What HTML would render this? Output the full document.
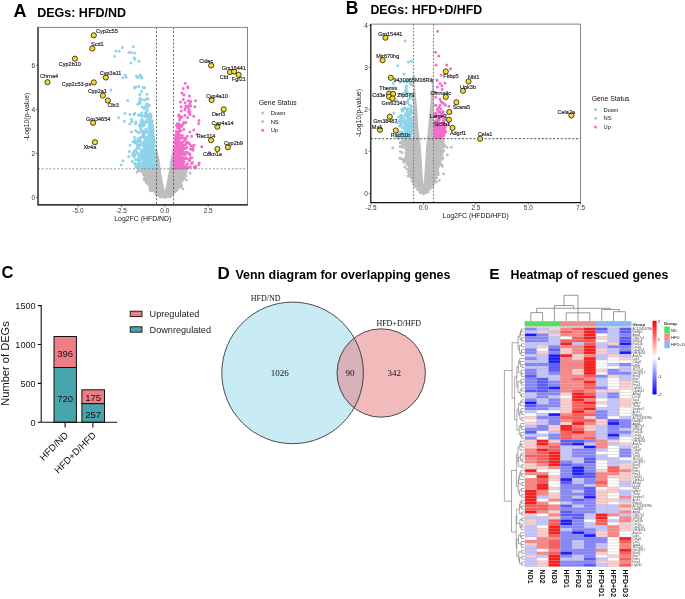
<!DOCTYPE html><html><head><meta charset="utf-8"><style>html,body{margin:0;padding:0;background:#fff}svg{display:block;will-change:transform}</style></head><body><svg width="685" height="599" viewBox="0 0 685 599"><rect width="685" height="599" fill="#fff"/><g>
<clipPath id="clipA"><rect x="38" y="27.3" width="209.6" height="177.6"/></clipPath>
<g clip-path="url(#clipA)">
<path d="M142.2 168.8L147.4 179.9L149.2 187.6L155.4 192.6L160.6 197.5L164.8 199L168.8 197.5L174.9 192.6L179.7 187.6L182.5 179.9L183.9 168.8L173.5 168.8L173.5 146.3L172.1 143.5L157.5 143.5L156.1 146.3L156.1 168.8Z" fill="#bebebe"/>
<path d="M156.8 140.2L156.8 147.7L159.6 160L160.5 168.8L162.5 180.3L164.3 189.1L164.8 190.7L165.3 189.1L167.2 180.3L169.3 168.8L170.4 160L172.8 147.7L172.8 140.2Z" fill="#fff"/>
<path d="M174.1 191.8h0M148.1 182.2h0M138.8 170.6h0M142.6 170.1h0M148.2 181.1h0M158.4 195h0M176.1 190.7h0M181.1 187.1h0M145 170.3h0M143.6 171.5h0M157.5 195.2h0M183.1 174h0M149 185.1h0M174.9 191.9h0M182.9 189h0M144.1 171.3h0M144.7 171.2h0M175.3 191.2h0M147.8 178.4h0M169.1 196.6h0M183.7 171.1h0M149.9 188h0M177 189.9h0M160.9 197h0M151.8 189.9h0M143.8 175h0M173.4 192.9h0M180.5 183.7h0M144.5 170.4h0M146.7 181.3h0M146.1 181.9h0M184.7 172.4h0M183.3 176.9h0M185.8 172.5h0M171.2 195.2h0M146.5 182.7h0M179.4 186.8h0M147.8 178.7h0M146.9 182.8h0M145.4 172.1h0M180.8 184h0M155.8 193.9h0M147 179.1h0M153 190.1h0M147.1 181.2h0M177.2 189.9h0M142.2 170.9h0M186.3 171.6h0M159.6 195.4h0M181 183.8h0M149.4 185.3h0M182.4 177.2h0M144.5 178.4h0M146.3 174.1h0M144 171.9h0M155.9 192.6h0M159.2 196h0M184.1 170.6h0M181.4 179.6h0M183.1 180h0M186.1 169.8h0M180.9 182h0M158.9 195.7h0M171 194.9h0M181.5 178.4h0M185.5 172.4h0M181.8 178h0M145.5 174.7h0M146.6 176.6h0M181.3 184.5h0M185.3 170h0M174 192.7h0M142.6 172.1h0M144.7 174.4h0M148.5 183.1h0M145 174.4h0M180.8 183.6h0M144.2 179.3h0M184.6 177.9h0M185.3 174.1h0M155.3 191.8h0M186 175.8h0M186.5 180.1h0M173.5 193h0M149.8 188.9h0M146.4 173h0M146.5 173.7h0M145.7 171.9h0M137.1 172h0M190.1 173.2h0M175.5 191.2h0M182.9 174.9h0M183.2 174.4h0M145 177.5h0M152.3 189.6h0M147 182.7h0M149.7 186.6h0M154.8 191.7h0M184.9 173.8h0M169.5 196.8h0M172.7 193.7h0M146.5 179.8h0M185.8 172h0M170.8 195.9h0M181.6 185.4h0M151.2 189.9h0M144.5 180.1h0M147.7 184.1h0M148.9 185.1h0M183.5 174.4h0M147 179.2h0M143.1 173.2h0M140.2 171.1h0M157.3 193.7h0M149.7 186h0M170.8 194.9h0M152.4 190.6h0M181.1 180.5h0M145.7 174.8h0M181.6 181.2h0M147.3 175.9h0M172.6 193.5h0M143.6 174.3h0M181.3 181.2h0M185.1 169.8h0M179.8 187.2h0M144.9 172.6h0M150.3 190.9h0M170.5 196.9h0M157.3 195.1h0" stroke="#bebebe" stroke-width="2.9" stroke-linecap="round" fill="none"/>
<path d="MZ" fill="#8fd3e8"/>
<path d="MZ" fill="#f46ccb"/>
<path d="M146.4 154.5h0M150.6 152h0M144.9 163.7h0M144.3 166.1h0M154.7 166.2h0M140.3 75.1h0M153.8 143.8h0M152.8 151h0M145.9 163.5h0M153.5 154.9h0M142 151.4h0M155.3 154.2h0M150.3 125.9h0M145.1 160.5h0M148.7 134.7h0M139.8 95h0M147.3 168.4h0M137.5 77.4h0M154.4 166.6h0M148.8 166.3h0M141.5 91.4h0M147.6 165.9h0M144.2 131.5h0M152.1 163.5h0M148.8 165.1h0M149.4 162.9h0M139 86.5h0M138.3 162.9h0M129.8 123.8h0M140 162.8h0M152.8 134.1h0M152.3 166.2h0M148.8 161.9h0M139.9 94.4h0M152.9 148.6h0M146.1 113h0M154.1 161.7h0M134.8 163.3h0M148.1 118.9h0M153.7 167.5h0M154.8 162.1h0M138.1 147.4h0M149.8 163.9h0M152.3 149.4h0M149.6 146.3h0M152.7 168h0M148.5 154.7h0M147.3 148.7h0M142.6 158h0M152.9 141.2h0M121.3 164.9h0M152.2 140.4h0M141.6 167.9h0M153.9 159.5h0M154.1 166.6h0M134.5 137.5h0M145.2 131.9h0M139.8 114.9h0M147.8 155.9h0M145.9 145.7h0M143.7 148.2h0M129 52.4h0M153.1 138.2h0M143.6 154.9h0M144 166.4h0M153 153.2h0M139 140.6h0M132.2 161.6h0M153.9 160.1h0M145.7 113.7h0M149.2 154.9h0M144 163.3h0M146.8 130.4h0M148.9 148.1h0M146.7 165h0M139.2 139.6h0M148.8 160.9h0M153.4 162.8h0M147.9 145.6h0M125.3 75.3h0M152.4 166.6h0M152.5 139.8h0M150.7 159.8h0M154.3 154.3h0M151.3 127.4h0M152.6 145.4h0M146.8 145.4h0M133 141.7h0M145.2 153.5h0M153.7 139.4h0M152 161h0M144.5 146.3h0M152.2 156.8h0M147.6 105.9h0M142.1 165.2h0M141.6 157.4h0M142.2 119.4h0M151.2 144h0M145.1 138.8h0M144.7 162.8h0M126.2 77.2h0M151.9 159.5h0M143.9 123.6h0M150.3 149.9h0M153.1 152.9h0M150.4 131.1h0M152.3 158.9h0M151.2 151.6h0M142.7 126h0M142.2 99.4h0M152 162.6h0M140.6 144.8h0M149.4 125.4h0M144.4 125.2h0M145.1 163h0M152.9 148.7h0M153.4 150.6h0M144.7 87.7h0M145.9 156.5h0M147.3 141.2h0M135.5 150.5h0M150.2 161.1h0M148 165.3h0M137.7 153.4h0M151.4 163.5h0M149.9 133.4h0M152.6 163.4h0M148.2 158.2h0M148.1 165.8h0M148.2 161.7h0M148.6 150.9h0M148.6 150.9h0M148.6 163.1h0M143.9 124.3h0M151.7 123.4h0M134 114.5h0M149.2 159.6h0M118.6 117.8h0M155.3 162.1h0M148.9 127.1h0M142.1 132.3h0M148 168h0M150.1 141.8h0M154.3 152.1h0M153.9 152.2h0M150 165.8h0M150.5 149.8h0M153.5 163.7h0M149.2 125.9h0M153.9 166.9h0M150.6 154h0M146.3 151.6h0M145.6 147.1h0M139.4 163.8h0M152.3 137.3h0M146.2 151.8h0M146.4 116.6h0M137.6 145.4h0M138.7 147.2h0M153.8 161.5h0M150.4 136.8h0M142.7 115.9h0M153.6 140.9h0M137.9 138.7h0M147.2 158.7h0M154.2 144.8h0M151.5 162.3h0M147.5 143.4h0M142.3 150.8h0M154.4 140.4h0M122.8 77.7h0M146 161.5h0M152.8 167.2h0M152.7 161.7h0M143.7 149.9h0M152.4 144.9h0M155.4 166.6h0M147.2 106.8h0M143 153.6h0M155.3 167h0M148.4 155.8h0M150.6 160.6h0M153.5 149.4h0M148.5 168.1h0M155.3 167.4h0M142.1 115.6h0M152.4 167.2h0M150 113.8h0M154.8 153.4h0M137.8 104.3h0M150.3 153.8h0M144.7 165.6h0M144.9 154.3h0M152.1 165.3h0M153.7 142.9h0M143.6 155.8h0M141.2 150.9h0M148 162.1h0M145.4 116.7h0M149.6 161.1h0M145 149.1h0M144.7 163.5h0M141.8 78.1h0M153.9 166.9h0M146.5 155.6h0M143.8 166.7h0M148.6 142.3h0M148.9 153.3h0M153.6 158.6h0M152.7 165.4h0M152.7 145.8h0M146.5 161.5h0M147.6 157.7h0M154.5 150h0M147.6 109.7h0M146.8 120.2h0M142.4 166.4h0M154.2 160.2h0M153.7 166.6h0M152.4 160h0M149.1 141h0M147.5 138.4h0M137.8 165.5h0M140.3 103.3h0M152.7 155.1h0M148.1 156.6h0M145.8 116.3h0M149 157.9h0M140.8 157h0M148.9 150.4h0M154 149.2h0M123 160.7h0M133.9 151.6h0M145 144h0M154.7 166.9h0M152 166.4h0M145.4 115.3h0M150.3 136.7h0M154.5 161.9h0M142.8 134.9h0M150.6 158.9h0M145.9 150.5h0M139.9 139.9h0M145.6 143h0M135.6 130.4h0M140.1 144.7h0M146 139.7h0M151.2 164.7h0M135 59.3h0M150.1 155.6h0M143.1 87.4h0M150.5 144.2h0M135.4 163.8h0M145.5 112.8h0M154.3 165.7h0M147.8 139.1h0M154.5 162.5h0M148.5 135.6h0M148.2 150h0M150.9 117.8h0M145.7 158.7h0M150.7 162.6h0M139.9 100.2h0M147.9 151.6h0M138.9 61.2h0M153.9 153.6h0M149.3 131.5h0M152.4 164.4h0M143.1 161.4h0M134.9 53.1h0M155.1 150.7h0M152.8 128.5h0M150 128.4h0M141.8 166h0M140.2 153.8h0M146.5 160h0M141.4 155.9h0M146.7 163h0M151.3 151.1h0M143.6 159.8h0M153.7 159.9h0M139.7 141.5h0M139 156.8h0M148.5 143.8h0M154.5 157.4h0M134.9 154.2h0M134.1 57.7h0M143.7 160.5h0M150.4 150.4h0M146.9 143h0M145.4 163.2h0M136 149.2h0M151.4 159.1h0M152.9 166.1h0M140.2 139.9h0M137.4 147.6h0M149.2 162.4h0M149.3 166.6h0M146.2 155.5h0M140.6 128.5h0M146.6 159.1h0M153.6 140.5h0M152.3 132.3h0M154.4 159.1h0M141 144h0M146 132.4h0M152.9 146.5h0M135.8 150h0M149.2 152.3h0M129.5 151.6h0M140.7 126.6h0M148.1 163.3h0M153 161.9h0M142 107.1h0M150.5 154h0M150.5 114.1h0M153.3 149.3h0M114.6 56.2h0M151.6 147.1h0M144.6 115.8h0M150.5 148.7h0M137.4 166.6h0M143.6 163.8h0M150.7 159.9h0M140.3 137.4h0M147 168h0M146.5 153.8h0M148.1 164h0M149.3 161.3h0M144.7 167.5h0M147.6 164.8h0M149.5 156.1h0M154.4 141.3h0M122.3 47.4h0M141.6 123.7h0M146.3 113.8h0M148.6 151.2h0M151.3 167.1h0M138.4 115.1h0M147 160h0M145.9 166.7h0M149.3 156.7h0M153.9 140.9h0M147.8 156.7h0M143 166.8h0M149.5 121.8h0M153.2 130.5h0M130 114.3h0M131.5 132h0M150.6 168.4h0M138.2 160.2h0M145.8 129.3h0M153.3 158.2h0M150.8 115.4h0M145.2 152.4h0M154.1 163h0M144.3 109.1h0M139.5 158.3h0M149.7 164h0M154.6 145.2h0M131.3 119.3h0M146.7 159.7h0M142.7 121.2h0M138.4 104.1h0M150.8 166.5h0M142.6 163.3h0M153.4 162.2h0M146.2 143.3h0M148.5 147.8h0M134.9 142.9h0M137.6 144.7h0M154.1 151h0M154.2 167.3h0M141.5 130.8h0M155.3 160.6h0M147.8 150h0M141.2 115.8h0M151.9 136.2h0M144.9 107.1h0M144.3 144.4h0M144 143.5h0M151.7 125.2h0M148 151.4h0M142 164.2h0M153.3 162.2h0M137.6 132.1h0M146 152.8h0M150.7 167.6h0M150.3 139.4h0M148.5 164.6h0M148.7 152.5h0M149 131.3h0M134.9 113.3h0M151.4 162.1h0M146.8 159.8h0M143.7 151.1h0M150.8 147.8h0M150.6 161.6h0M153.8 141.2h0M152.3 156.2h0M145.7 162.7h0M151.2 135.2h0M155.5 164.8h0M153 162h0M152.8 164.9h0M139.9 166.6h0M153.1 135h0M148.3 149.8h0M150 154.1h0M136.4 76.3h0M153.8 167.5h0M153 158.7h0M144.5 122.1h0M148.9 156.8h0M153.6 157.3h0M147.6 163.7h0M153.4 164.3h0M145.8 159.9h0M131.6 52.4h0M147.3 157.2h0M154.2 141.2h0M153.9 163.7h0M153.9 156.8h0M148.6 158h0M148.2 104.5h0M124.9 113.4h0M139.6 159.4h0M146.3 159.3h0M145.9 151.4h0M151.6 167.4h0M148.5 147.4h0M146.4 150.2h0M152.3 140h0M142.8 164.7h0M148.3 160.8h0M147.2 121.9h0M154.9 160.4h0M153.1 167.8h0M147.6 149.1h0M153.4 142.7h0M144.6 162.8h0M132 121.4h0M140.4 145.2h0M151.8 167h0M154.5 159.2h0M150.2 156.5h0M155.3 164.2h0M151.5 158.7h0M152.2 164.6h0M135 140.5h0M147.1 156.9h0M152.2 167.1h0M151.8 148h0M149.7 167.8h0M150.7 116.9h0M142.6 163.6h0M147.2 146.3h0M139.6 102.3h0M146.9 145.5h0M150.7 160.9h0M149.9 119.4h0M154.3 165h0M150.5 159.8h0M154.8 163.4h0M143.2 142h0M155.3 156.8h0M143.3 152.6h0M151.3 149.3h0M134.4 88.1h0M140.4 159.7h0M137.9 140.9h0M151.9 164.4h0M150.2 152.8h0M148.6 136.4h0M153 162.1h0M150.2 151.7h0M136 166.9h0M147.4 165.6h0M144.2 134.2h0M124.3 121.2h0M153 161.6h0M145.6 139.3h0M146.6 139.3h0M139.3 125.6h0M151.7 149h0M140.5 127.2h0M152.5 165.3h0M145.6 163.7h0M150.2 148h0M153.6 141.5h0M130 145.3h0M145 167.2h0M149.9 165.5h0M119.2 51.3h0M138 159.1h0M152.7 157.6h0M151.6 131.1h0M146 146.1h0M139.1 76.7h0M142.6 131.1h0M144.6 163.9h0M152.5 152.9h0M147.4 159.3h0M152.8 145.7h0M151 162.4h0M146.5 167.2h0M146.4 116.7h0M152.6 153.1h0M146.5 163.2h0M152.5 130.3h0M148.9 167h0M145.2 160.9h0M135.8 122.1h0M148.2 138.5h0M153.1 167.8h0M153.1 158.1h0M149.4 159.8h0M146.9 94.3h0M151.3 151h0M141.4 156.6h0M148.9 127.7h0M148.2 98.9h0M152.7 140.1h0M153.9 148.5h0M146.5 157h0M141.9 157.9h0M149 158.3h0M151.3 166.1h0M153.7 137.1h0M143.1 142h0M150.1 165.8h0M148.1 168.2h0M134.1 156.4h0M150.5 163.1h0M135.1 159.4h0M138.8 155.4h0M154 162.7h0M150.2 161h0M145.1 100.1h0M130.7 63h0M150.9 145.1h0M150 146.2h0M140.5 123.5h0M155.2 165.6h0M149.7 141.3h0M147.4 157.2h0M152.6 147.1h0M154.6 145.5h0M150.2 147.6h0M153.1 153.8h0M151.9 137.4h0M128.7 156.5h0M149.2 165.3h0M152.6 125.9h0M146.2 104.1h0M115.8 51.1h0M152.3 121.1h0M139.1 154.4h0M149.9 121.9h0M143.3 166.6h0M152.9 132.6h0M135.8 123.7h0M153.6 149.9h0M146.7 157.8h0M144.7 167.5h0M143.1 165.5h0M141.2 157h0M143 166.7h0M145.4 163h0M145.6 163.3h0M148 155.3h0M148.1 145.4h0M152.9 147h0M150.2 141h0M135.5 165.2h0M151 158.2h0M133.3 46.5h0M147.2 159.8h0M141.1 164.7h0M147.9 156.2h0M147.2 152h0M144.3 162.2h0M151.6 160.6h0M137.2 142.3h0M149.3 105.6h0M133.8 154.6h0M134.8 155.8h0M147.5 160.4h0M150.5 142.6h0M149 116.1h0M147.9 155.8h0M139.1 147.7h0M148.5 166h0M151 157.5h0M136.8 142.8h0M142.9 167.8h0M147.7 153.7h0M152.9 142.7h0M136 86.9h0M152.7 127.5h0M145.1 140.4h0M151.4 156.5h0M153.4 162.7h0M147.4 164.8h0M142.5 137h0M143.5 145.8h0M153.7 161.6h0M140.6 165.4h0M138.2 168h0M149.3 167.8h0M143 150.6h0M145.5 160.1h0M153 165.3h0M152.4 151.8h0M151.2 133.6h0M154 162.7h0M152.6 149.5h0M149.2 124.5h0M134.6 87h0M145.3 122.2h0M138.7 156h0M140.3 137.7h0M151.4 164.5h0M154.7 160.1h0M145.7 144.5h0M153 166.5h0M150.8 165.7h0M145.4 143.8h0M127.8 100.6h0M155.3 156.8h0M147.6 137.3h0M148.3 153.4h0M139.2 155.4h0M150.5 166.9h0M154.4 150h0M151.4 157.6h0M155.2 153.1h0M145.5 168.2h0M110.9 89.9h0M142.9 157.9h0M146.3 157.7h0M148 159.6h0M151.4 151.6h0M154.3 161.7h0M147.6 131.6h0M148.6 160.6h0M151.8 166.3h0M148.6 159.6h0M139 132.4h0M150.4 167.3h0M153.8 149.8h0M148.3 105.3h0M153.6 148.3h0M145.1 142h0M147.3 110.8h0M144.3 136.2h0M149.5 154.7h0M144.6 137.7h0M150 165.5h0M138.5 165.6h0M136.9 159.8h0M148.2 162.9h0M142.1 150.6h0M132.7 153.6h0M146 155.3h0M137 152.6h0M143.9 157h0M146.7 164.2h0M151.4 163.2h0M147.8 147.7h0M150.8 157h0M147.9 148.1h0M141.2 77.1h0M149.4 161.4h0M139.5 148.6h0M148.9 157.4h0M132.7 155.3h0M141.6 112.7h0M155.2 152.9h0M151.4 159.9h0M145.6 167.6h0M150.8 159h0M147 98.6h0M149.8 132.9h0M152.1 163.2h0M151 134.9h0M148.1 115.2h0M139.9 98.6h0M154.5 160.4h0M143.3 161.8h0M153.3 150.6h0M149.1 165.1h0M153.7 161h0M141.1 120.5h0M143.5 122.9h0M146.9 137.7h0M153.6 143.4h0M148.9 167.1h0M154.4 158h0M145.7 157.7h0" stroke="#8fd3e8" stroke-width="3" stroke-linecap="round" fill="none"/>
<path d="M185.3 108.2h0M176.7 162.9h0M175.5 165.9h0M179.5 119.8h0M180.6 150.9h0M177.2 125.3h0M190.7 145.4h0M185.2 83.3h0M179.1 127.9h0M174.7 152.7h0M179.1 152.7h0M174.9 142.8h0M190 154.5h0M182 93.1h0M179.6 165.4h0M188.9 109.8h0M190.7 105.7h0M186.6 168h0M182.1 149.7h0M189.8 111.7h0M177.8 153.1h0M177.1 125.8h0M182.9 167.9h0M184 153h0M177.9 138.7h0M175.4 135.3h0M179.4 130.9h0M179.5 168.1h0M180.4 162h0M175.8 144.9h0M175.9 162.8h0M177.6 162.3h0M176.1 136.3h0M184.3 162.1h0M176.1 162.2h0M178.8 160.9h0M177.3 141.2h0M182.4 166.7h0M192.4 162.5h0M185.2 158.7h0M180.4 117.7h0M178 135.7h0M178.3 159.7h0M178.6 149.5h0M182.6 154.9h0M175.4 158.4h0M181.8 116.9h0M195.6 100.7h0M181.2 159.6h0M188.5 107.4h0M182.4 165.3h0M187.6 105.9h0M176.6 158.6h0M190.3 166.8h0M176.9 159.4h0M178.2 165.6h0M175 152.1h0M194.8 106.8h0M181.6 163.1h0M190 114.4h0M179.4 164.7h0M178 135.4h0M178.8 155.5h0M180.5 164h0M183.2 88.5h0M181 167.3h0M174.4 164.4h0M175.4 163.2h0M178.7 153.9h0M175 168.1h0M178.9 167.5h0M178.9 155h0M181.1 160.4h0M180.4 157.1h0M178.7 155.5h0M181.2 110.9h0M198.6 123.6h0M175.2 161.3h0M178.7 141.5h0M181.2 106.7h0M179.1 166.3h0M181.8 154h0M182.7 153.3h0M174.2 161.8h0M181.8 147.5h0M178.8 154.6h0M184 94.9h0M176.6 134.7h0M176.2 131.4h0M189.8 153.7h0M182.7 151.4h0M174.6 161.2h0M175.9 153.7h0M180.8 130.8h0M188 87.8h0M187 142.3h0M178 134.5h0M179.6 162.5h0M180.8 167.9h0M185.2 148.6h0M188.7 111.9h0M178.1 166h0M181 125.4h0M185.7 138.7h0M174.9 148h0M178.9 126h0M191.6 136.2h0M182 147h0M178.3 158.2h0M176.1 135.1h0M177.7 146.2h0M182.1 160.4h0M180.6 164h0M189.7 160h0M187.6 117.6h0M183.3 99.6h0M182.2 159.9h0M175.1 167.6h0M174.5 152.3h0M179.4 163.7h0M176.1 162.6h0M175.1 159.2h0M185.9 106.1h0M177.7 162.8h0M190.8 101.5h0M179.8 138.3h0M179.1 146.9h0M177.5 152.1h0M174.6 152.7h0M176.4 165h0M175 161.7h0M181.7 137.9h0M178 142.8h0M175.6 154.9h0M185.9 122.5h0M177.3 143.6h0M184.4 165.5h0M179.4 157.6h0M185.8 144.4h0M179.5 165.5h0M185.3 154.9h0M177.4 155.2h0M189.8 104h0M174.9 160.5h0M176.6 165.7h0M188.5 153.5h0M174.7 157.7h0M187.9 142.6h0M180.1 158.9h0M176.4 147.9h0M181.8 160.8h0M178.9 124.1h0M186.5 158.5h0M176 157.6h0M178 140.1h0M192.3 146.1h0M176 156.4h0M186.6 152.2h0M181.4 159.6h0M176 137.9h0M193.1 148.5h0M187.4 163.8h0M179.8 167.1h0M186.4 158h0M175.1 142.3h0M183.3 162.3h0M178.3 151.1h0M175.6 136.6h0M176.4 141.2h0M183.5 152.7h0M182.1 164.6h0M180.5 161.2h0M180.4 157h0M179.3 152.6h0M181.7 150.7h0M183.4 166.8h0M178.2 143.7h0M180.2 161.7h0M187.2 152.2h0M181.3 165h0M176.4 125.2h0M181.7 165.8h0M176.2 135.3h0M189.3 143.5h0M178.5 132.6h0M186 143.2h0M183 124.3h0M175.2 156.2h0M179.5 150.7h0M174.5 163.1h0M178.1 165h0M180.7 156.6h0M180.9 116.7h0M180.9 142.7h0M177.6 123.5h0M180.7 163h0M186.4 167.4h0M179.7 152h0M195.3 166.3h0M191.2 149.2h0M184.7 167h0M175.5 164.3h0M178.3 145.4h0M181.2 161.2h0M174.2 159.2h0M184.3 162.1h0M174.5 160.6h0M179.7 129.2h0M183.4 153.4h0M182.5 148h0M181 143.7h0M178 153.7h0M178 152.6h0M199.2 163.1h0M179 160.9h0M183.5 161.4h0M181 125.9h0M185.4 139.8h0M190.2 157.8h0M193.8 116.3h0M182.6 166.8h0M175.9 153.2h0M179.2 126.9h0M174.2 168.1h0M181.2 158.1h0M184.9 109.7h0M179.2 138.3h0M176.4 155.3h0M183.4 144.9h0M177 159.8h0M178 147.5h0M191.6 163.3h0M184.3 138.3h0M176.4 166.2h0M176 162h0M194.3 167.2h0M176 134.9h0M175.7 164.7h0M180.5 102h0M187.2 164.1h0M183.5 148.4h0M176.6 158.3h0M177.3 162.3h0M189.3 96.1h0M175.3 161.5h0M176.3 164.1h0M180.1 161.2h0M194.2 145.2h0M176.6 158.3h0M174.4 154.2h0M209.2 152.5h0M177.7 158.7h0M177.8 165h0M176.6 153.9h0M175.5 138h0M183.1 141.4h0M181.6 126.5h0M183.8 129.5h0M175.5 139.7h0M178.1 131.8h0M198.7 164.7h0M178.6 158.3h0M186.5 167.4h0M183.3 167.6h0M177.7 161.3h0M177.8 147h0M176.9 164.5h0M177.3 150.8h0M183.7 158.1h0M176.4 163.9h0M179.9 168.2h0M178.1 152h0M175.8 165.4h0M181.7 142.7h0M177.1 167.5h0M187.3 136.3h0M189.7 114.2h0M184.2 138h0M187.6 86.7h0M179.6 148.9h0M199 120.6h0M193.8 130.1h0M188.3 100.8h0M179.2 165.4h0M175.2 167h0M180.8 148.8h0M179.8 156h0M174.6 158.9h0M176.9 164h0M189 159.7h0M178.6 168.4h0M183.4 147.1h0M186.6 142h0M177.5 127.7h0M179.1 156.9h0M178.9 140h0M178.7 144.2h0M192 163.6h0M180.7 164.7h0M177.4 140.9h0M177.8 144.9h0M175.1 167.6h0M189.9 131.9h0M178.3 158.6h0M175 146.9h0M177 164.7h0M185 152.5h0M182.1 159.5h0M181.7 145.1h0M180.6 150.1h0M177.6 144.7h0M186.8 147.4h0M174.8 168.2h0M184 153.5h0M182.3 167.1h0M182.4 135.4h0M176.6 155.7h0M184.9 115.3h0M191.8 157.8h0M195.7 167.4h0M176.3 166.7h0M177.5 156.9h0M177.2 138.2h0M183.8 122.5h0M177.7 168.2h0M174.4 165.3h0M179.1 139.4h0M178.6 156h0M176 167.3h0M178.9 136.7h0M188.7 167.6h0M178.4 135.6h0M179.8 167.4h0M178.7 116.3h0M201.7 146.8h0M182.7 148.2h0M175.5 141.4h0M176.3 153.7h0M178 151.8h0M178.5 151.6h0M174.4 164.5h0M180.6 157h0M177.4 141.2h0M176.2 164.5h0M178.8 154h0M179.1 164.3h0M177.4 148.9h0M183.9 148.5h0M181.8 148.8h0M176 146.5h0M178.2 157.3h0M179.4 159.3h0M179.6 134.7h0M180.6 146.8h0M178.9 160.5h0M189.3 160.8h0M183.6 165.8h0M185.3 166.6h0M180.1 138.6h0M178.9 155h0M176.1 161.2h0M185.1 167.8h0M176.8 134.4h0M177.3 166.7h0M190.6 149h0M178.9 160.3h0M180.8 156.9h0M178.9 114.8h0M175.5 150.5h0M179.4 151.3h0M186.1 166.4h0M193.1 150.3h0M185 102.7h0M182 136.9h0M181.3 164.8h0M179.5 142.2h0M175.9 150.7h0M178.8 165.1h0M176.8 164.7h0M181.4 155.3h0M180.8 161.5h0M196.9 134.3h0M177.9 151.8h0M175.8 161.9h0M182 149.7h0" stroke="#f46ccb" stroke-width="3" stroke-linecap="round" fill="none"/>
<path d="M38 168.8H247.6" stroke="#777" stroke-width="0.8" stroke-dasharray="2 1.8" fill="none"/>
<path d="M156.5 27.3V204.9" stroke="#444" stroke-width="0.8" stroke-dasharray="2 1.8" fill="none"/>
<path d="M173.5 27.3V204.9" stroke="#444" stroke-width="0.8" stroke-dasharray="2 1.8" fill="none"/>
</g>
<circle cx="93.8" cy="35.3" r="2.6" fill="#f0d928" stroke="#111" stroke-width="0.75"/>
<circle cx="92.3" cy="48.5" r="2.6" fill="#f0d928" stroke="#111" stroke-width="0.75"/>
<circle cx="74.9" cy="58.7" r="2.6" fill="#f0d928" stroke="#111" stroke-width="0.75"/>
<circle cx="47.5" cy="82.2" r="2.6" fill="#f0d928" stroke="#111" stroke-width="0.75"/>
<circle cx="93.8" cy="82.4" r="2.6" fill="#f0d928" stroke="#111" stroke-width="0.75"/>
<circle cx="105.8" cy="77.5" r="2.6" fill="#f0d928" stroke="#111" stroke-width="0.75"/>
<circle cx="102.8" cy="95.6" r="2.6" fill="#f0d928" stroke="#111" stroke-width="0.75"/>
<circle cx="107.8" cy="100.5" r="2.6" fill="#f0d928" stroke="#111" stroke-width="0.75"/>
<circle cx="93.1" cy="122.8" r="2.6" fill="#f0d928" stroke="#111" stroke-width="0.75"/>
<circle cx="94.9" cy="142.2" r="2.6" fill="#f0d928" stroke="#111" stroke-width="0.75"/>
<circle cx="211.1" cy="65.5" r="2.6" fill="#f0d928" stroke="#111" stroke-width="0.75"/>
<circle cx="230" cy="72.1" r="2.6" fill="#f0d928" stroke="#111" stroke-width="0.75"/>
<circle cx="234.1" cy="71.5" r="2.6" fill="#f0d928" stroke="#111" stroke-width="0.75"/>
<circle cx="238.6" cy="74.8" r="2.6" fill="#f0d928" stroke="#111" stroke-width="0.75"/>
<circle cx="211.6" cy="100.1" r="2.6" fill="#f0d928" stroke="#111" stroke-width="0.75"/>
<circle cx="223.7" cy="109.3" r="2.6" fill="#f0d928" stroke="#111" stroke-width="0.75"/>
<circle cx="217.4" cy="126.7" r="2.6" fill="#f0d928" stroke="#111" stroke-width="0.75"/>
<circle cx="211.1" cy="140.2" r="2.6" fill="#f0d928" stroke="#111" stroke-width="0.75"/>
<circle cx="227.9" cy="147.3" r="2.6" fill="#f0d928" stroke="#111" stroke-width="0.75"/>
<circle cx="217.4" cy="149" r="2.6" fill="#f0d928" stroke="#111" stroke-width="0.75"/>
<text x="96" y="33.4" style="font-family:'Liberation Sans',sans-serif;font-size:5.5px" fill="#1a1a1a" stroke="#1a1a1a" stroke-width="0.15">Cyp2c55</text>
<text x="91" y="46.3" style="font-family:'Liberation Sans',sans-serif;font-size:5.5px" fill="#1a1a1a" stroke="#1a1a1a" stroke-width="0.15">Scd1</text>
<text x="58.8" y="65.7" style="font-family:'Liberation Sans',sans-serif;font-size:5.5px" fill="#1a1a1a" stroke="#1a1a1a" stroke-width="0.15">Cyp2b10</text>
<text x="40.1" y="78.3" style="font-family:'Liberation Sans',sans-serif;font-size:5.5px" fill="#1a1a1a" stroke="#1a1a1a" stroke-width="0.15">Chrna4</text>
<text x="61.8" y="85.9" style="font-family:'Liberation Sans',sans-serif;font-size:5.5px" fill="#1a1a1a" stroke="#1a1a1a" stroke-width="0.15">Cyp2c53-ps</text>
<text x="99.8" y="75.3" style="font-family:'Liberation Sans',sans-serif;font-size:5.5px" fill="#1a1a1a" stroke="#1a1a1a" stroke-width="0.15">Cyp3a11</text>
<text x="87.9" y="93.3" style="font-family:'Liberation Sans',sans-serif;font-size:5.5px" fill="#1a1a1a" stroke="#1a1a1a" stroke-width="0.15">Cyp2a1</text>
<text x="107.4" y="106.7" style="font-family:'Liberation Sans',sans-serif;font-size:5.5px" fill="#1a1a1a" stroke="#1a1a1a" stroke-width="0.15">Cib3</text>
<text x="86.1" y="120.5" style="font-family:'Liberation Sans',sans-serif;font-size:5.5px" fill="#1a1a1a" stroke="#1a1a1a" stroke-width="0.15">Gm34654</text>
<text x="83.4" y="148.8" style="font-family:'Liberation Sans',sans-serif;font-size:5.5px" fill="#1a1a1a" stroke="#1a1a1a" stroke-width="0.15">Xlr4a</text>
<text x="199.2" y="63" style="font-family:'Liberation Sans',sans-serif;font-size:5.5px" fill="#1a1a1a" stroke="#1a1a1a" stroke-width="0.15">Cidec</text>
<text x="219.8" y="78.8" style="font-family:'Liberation Sans',sans-serif;font-size:5.5px" fill="#1a1a1a" stroke="#1a1a1a" stroke-width="0.15">Cfd</text>
<text x="221.8" y="69.5" style="font-family:'Liberation Sans',sans-serif;font-size:5.5px" fill="#1a1a1a" stroke="#1a1a1a" stroke-width="0.15">Gm15441</text>
<text x="231.8" y="81.4" style="font-family:'Liberation Sans',sans-serif;font-size:5.5px" fill="#1a1a1a" stroke="#1a1a1a" stroke-width="0.15">Fgf21</text>
<text x="205.9" y="97.6" style="font-family:'Liberation Sans',sans-serif;font-size:5.5px" fill="#1a1a1a" stroke="#1a1a1a" stroke-width="0.15">Cyp4a10</text>
<text x="211.9" y="115.8" style="font-family:'Liberation Sans',sans-serif;font-size:5.5px" fill="#1a1a1a" stroke="#1a1a1a" stroke-width="0.15">Derl3</text>
<text x="211.6" y="124.5" style="font-family:'Liberation Sans',sans-serif;font-size:5.5px" fill="#1a1a1a" stroke="#1a1a1a" stroke-width="0.15">Cyp4a14</text>
<text x="196.8" y="138" style="font-family:'Liberation Sans',sans-serif;font-size:5.5px" fill="#1a1a1a" stroke="#1a1a1a" stroke-width="0.15">Rec114</text>
<text x="223.9" y="145.2" style="font-family:'Liberation Sans',sans-serif;font-size:5.5px" fill="#1a1a1a" stroke="#1a1a1a" stroke-width="0.15">Cyp2b9</text>
<text x="202.9" y="155.6" style="font-family:'Liberation Sans',sans-serif;font-size:5.5px" fill="#1a1a1a" stroke="#1a1a1a" stroke-width="0.15">Cdkn1a</text>
<rect x="38" y="27.3" width="209.6" height="177.6" fill="none" stroke="#666" stroke-width="0.8"/>
<path d="M38 27.3V204.9H247.6" stroke="#111" stroke-width="1.1" fill="none"/>
<text x="35" y="199.8" style="font-family:'Liberation Sans',sans-serif;font-size:6.5px" fill="#333" text-anchor="end">0</text>
<text x="35" y="155.7" style="font-family:'Liberation Sans',sans-serif;font-size:6.5px" fill="#333" text-anchor="end">2</text>
<text x="35" y="111.6" style="font-family:'Liberation Sans',sans-serif;font-size:6.5px" fill="#333" text-anchor="end">4</text>
<text x="35" y="67.5" style="font-family:'Liberation Sans',sans-serif;font-size:6.5px" fill="#333" text-anchor="end">6</text>
<text x="78" y="212.7" style="font-family:'Liberation Sans',sans-serif;font-size:6.4px" fill="#333" text-anchor="middle">-5.0</text>
<text x="121.4" y="212.7" style="font-family:'Liberation Sans',sans-serif;font-size:6.4px" fill="#333" text-anchor="middle">-2.5</text>
<text x="164.8" y="212.7" style="font-family:'Liberation Sans',sans-serif;font-size:6.4px" fill="#333" text-anchor="middle">0.0</text>
<text x="208.2" y="212.7" style="font-family:'Liberation Sans',sans-serif;font-size:6.4px" fill="#333" text-anchor="middle">2.5</text>
<path d="M35.8 197.5H38M35.8 153.4H38M35.8 109.3H38M35.8 65.2H38M78 204.9V207.1M121.4 204.9V207.1M164.8 204.9V207.1M208.2 204.9V207.1" stroke="#333" stroke-width="0.6"/>
<text x="142.8" y="220.6" style="font-family:'Liberation Sans',sans-serif;font-size:6.9px" fill="#111" text-anchor="middle">Log2FC (HFD/ND)</text>
<text x="29.2" y="116.8" style="font-family:'Liberation Sans',sans-serif;font-size:6.8px" fill="#111" text-anchor="middle" transform="rotate(-90 29.2 116.8)">-Log10(p-value)</text>
<text x="258.8" y="104.6" style="font-family:'Liberation Sans',sans-serif;font-size:6.8px" fill="#111">Gene Status</text>
<circle cx="262.6" cy="112.9" r="1.5" fill="#8fd3e8"/>
<text x="270.7" y="115" style="font-family:'Liberation Sans',sans-serif;font-size:5.8px" fill="#111">Down</text>
<circle cx="262.6" cy="121.6" r="1.5" fill="#bebebe"/>
<text x="270.7" y="123.7" style="font-family:'Liberation Sans',sans-serif;font-size:5.8px" fill="#111">NS</text>
<circle cx="262.6" cy="130.3" r="1.5" fill="#f46ccb"/>
<text x="270.7" y="132.4" style="font-family:'Liberation Sans',sans-serif;font-size:5.8px" fill="#111">Up</text>
</g>
<g>
<clipPath id="clipB"><rect x="370.8" y="24.1" width="209.8" height="178.5"/></clipPath>
<g clip-path="url(#clipB)">
<path d="M403 138.7L407.6 165.2L413 182.8L419.3 192L423.5 195.4L427.7 192L435 182.8L439 165.2L444 138.7L434 138.7L434 84.1L432.9 79.9L429.8 79.9L417.2 84.1L414.1 86.2L413 90.4L413 138.7Z" fill="#bebebe"/>
<path d="M415.1 58.9L415.1 88.3L417.2 108.5L418.5 129.9L420.8 146.3L422.7 176.5L423.5 184.9L424.3 176.5L426.2 146.3L427.9 129.9L429.8 108.5L431.9 88.3L431.9 58.9Z" fill="#fff"/>
<path d="M445.1 146h0M439.6 163.5h0M443.2 143.5h0M404.8 167h0M417.8 188.8h0M436.4 177.4h0M441 155.6h0M404.3 142h0M440.4 159.8h0M402.8 145.1h0M437.9 172.5h0M437.7 169.3h0M436.6 177.8h0M443.5 141.6h0M410 167.7h0M410 175.1h0M406.4 161.8h0M435.3 177.4h0M408.8 165.7h0M414 185.1h0M407.7 168.9h0M438.8 165.7h0M447.3 154.9h0M442.3 149.6h0M426.6 192.4h0M420.2 192.8h0M439.4 163.9h0M405.9 153.6h0M403.1 140.8h0M413.9 183.7h0M410.8 176.2h0M436.4 182h0M409.1 165.9h0M411.4 178h0M443.8 146.1h0M439.4 180.4h0M439.7 155.5h0M392.8 148h0M431.5 186.5h0M402.3 145.6h0M409.3 168.6h0M443.8 150.6h0M432.5 183.9h0M435.7 176.6h0M402.2 152.7h0M447.1 147.6h0M407.6 158h0M441.7 151.2h0M432.9 186.9h0M438.8 165.3h0M434.5 178.9h0M415.3 185.9h0M438.5 174.6h0M400.7 141.9h0M441.6 164.7h0M442.6 166.4h0M411.5 177.1h0M436.7 171.5h0M431.5 185.3h0M408.3 165.2h0M406.7 159.9h0M403.8 161.7h0M437.3 169.7h0M435.9 173.9h0M415 184.3h0M440.1 161.5h0M405.4 160.8h0M408.6 162.7h0M402.8 147.6h0M405.2 159.4h0M404 159.9h0M417.9 189.4h0M434.7 180.4h0M405.6 156.9h0M407.2 160.4h0M400.1 142.7h0M437.6 171.1h0M441.1 156.4h0M400.2 151.6h0M430.2 188.7h0M437.1 174.4h0M437.3 171.6h0M408.3 172.2h0M429.5 189h0M409.3 174.9h0M407.9 158.6h0M403.9 162.3h0M442.8 142.5h0M438.4 166.9h0M435.5 176.2h0M412.1 181.3h0M433.6 183.4h0M436.1 173.4h0M406.9 164.2h0M437 170.1h0M441.8 150.3h0M400.1 146.8h0M408.5 162.5h0M430.8 186.3h0M435.2 176.3h0M405.7 148.4h0M443.9 146.9h0M442.1 154.4h0M435.1 180.9h0M425.7 192.7h0M440.7 158.8h0M451.4 147.2h0M442.3 152.8h0M413.6 183.2h0M417.8 190h0M443.2 151.4h0M436.2 176.5h0M430.1 188.8h0M403 159.8h0M409.8 170.5h0M441.6 146.6h0M438.4 164h0M409.2 170.5h0M444.1 144.9h0M443 157.9h0M428 191.9h0M437 171.8h0M442 159.4h0M438.7 162.7h0M406.9 169.1h0M433 184h0M441.6 146.9h0M439.4 165h0M410.3 176h0M430 188.3h0M437.4 167.5h0M439.8 158.1h0M434.6 182.2h0M440.7 153.6h0M416.3 186.9h0M430.9 187.1h0M403.1 140.6h0M436.9 172.1h0M433.2 184.6h0M399.8 158.2h0M402 143h0M443.5 173.9h0M415.6 186.9h0M401.3 158.8h0M404.1 161.7h0M410.5 172.7h0M408 176.3h0M407.1 154.3h0M437.8 169.5h0M402.6 142.4h0M432.5 82.5h0M413.9 126.7h0M433.7 136h0M433.8 105.2h0M413.4 100.7h0M432.9 94.7h0M413.8 77.7h0M413.9 98.8h0M414.3 122.6h0M413.6 83.2h0M413.4 85.4h0M413.8 80.5h0" stroke="#bebebe" stroke-width="2.9" stroke-linecap="round" fill="none"/>
<path d="MZ" fill="#8fd3e8"/>
<path d="MZ" fill="#f46ccb"/>
<path d="M409.6 98.7h0M410.6 124.3h0M409.9 126.4h0M406.1 134.1h0M410.9 137.5h0M405.9 127h0M410.7 131.1h0M404 121.6h0M410.9 84.5h0M406.2 125h0M402.6 132.2h0M410.6 124.4h0M409.8 122.3h0M406.9 112.3h0M407.6 136h0M411 125h0M411.1 131.8h0M406.8 115.1h0M410.4 133.3h0M402.3 111.2h0M399.6 125.9h0M404.2 135.1h0M401.2 137h0M410.5 120.3h0M393.8 113.1h0M407.6 117h0M410.3 82.4h0M410 128.4h0M410.9 96.9h0M409.4 126.5h0M412.2 126h0M405.1 102.9h0M407.2 131.5h0M399.8 120.3h0M409.2 120h0M408.9 132.6h0M400.8 115.5h0M408.9 136.1h0M410 131.7h0M407.4 92.1h0M411.5 125.4h0M404.3 128.2h0M404.2 118.7h0M404.8 135.5h0M409.3 134.4h0M406.3 129.6h0M409.2 119.7h0M405 125.6h0M401.4 132.5h0M405.2 107.8h0M407.9 115.2h0M409.2 132h0M409.1 132.4h0M407.1 129.6h0M412.2 128h0M407.5 136.4h0M409.4 133.2h0M412.3 128.5h0M409.2 125.2h0M408.1 109.1h0M410.4 122.7h0M407.7 131.1h0M411.4 110.4h0M405.9 120.7h0M410.4 136.6h0M408 81.3h0M409.9 134.8h0M409.9 118h0M410.6 119.2h0M400.7 123.9h0M402.1 131.9h0M405.7 134.4h0M400.3 132.1h0M409.8 129.2h0M407.3 121.9h0M409.3 105h0M410.7 135.8h0M400.8 137.3h0M407.9 118.4h0M411.4 130h0M408.7 132.1h0M404.9 129.8h0M408.8 132.1h0M410.6 111.8h0M406.5 86h0M407.6 123.7h0M401.1 121.5h0M407.8 130.4h0M399.4 137h0M401.2 117.5h0M408 121.2h0M405.1 136.9h0M410.6 126.9h0M410.7 128.2h0M404.6 122.4h0M405 123.8h0M407.6 134.5h0M411.8 132.8h0M407.8 125.9h0M397.1 137.5h0M406.8 125.1h0M403.6 93.4h0M409.5 136.1h0M411.3 111.3h0M409.6 136.6h0M396.7 122.7h0M403.4 133.1h0M411.4 106.4h0M401.6 117.8h0M407.5 134.9h0M401.8 136.9h0M399.2 137.9h0M401.9 116.3h0M407.3 122.6h0M405.5 113.8h0M407.9 102.4h0M407.5 108.8h0M403.9 123.5h0M411.5 134.3h0M409.2 135.6h0M404.5 81.7h0M408.7 112.8h0M402 126.2h0M407.2 110.2h0M409.2 124h0M396.5 100.6h0M410.3 127.1h0M404.9 115.8h0M407.2 133.6h0M407.9 135.2h0M396.4 133.6h0M401.4 115.2h0M405.6 135.4h0M404.3 128.9h0M411.1 98.1h0M405 115h0M401.5 136.4h0M411 130h0M406.5 130.7h0M400 94.2h0M410.8 108.3h0M409.3 117.9h0M403.8 123h0M408.7 98.7h0M397.1 132.5h0M410 122.6h0M403.9 123.2h0M406.2 124h0M406.7 131.6h0M412.1 132.5h0M402.5 127.8h0M407.3 121.3h0M409 133h0M409.5 129.5h0M405.7 133.6h0M405.6 133.4h0M393.4 83.2h0M410.4 135.4h0M407.9 117.1h0M405.6 124.5h0M408.1 137.1h0M402.3 136h0M401 136h0M407.4 131.2h0M402.8 121.1h0M407.8 128.7h0M411.2 123.2h0M398.6 117.1h0M410.1 127.2h0M401.9 109.9h0M405.4 126.1h0M410.1 118.2h0M410.2 109.3h0M399.2 121.7h0M409.9 137.3h0M410.8 124.5h0M408.1 113h0M411.7 123.5h0M410.3 114.3h0M406.6 137.8h0M406.3 88.2h0M401.7 134h0M411.4 122.5h0M410 134.9h0M407.5 101.1h0M411 118.6h0M406 130.8h0M411.4 131.9h0M408.9 122.9h0M408.3 115.5h0M408.4 136.4h0M410.1 135.6h0M404.4 109h0M411.8 112.7h0M405.1 137.2h0M411.9 123h0M409.4 137.8h0M404.9 137.4h0M405.4 90.3h0M401.6 109.8h0M409 127.8h0M400.5 119.6h0M407 82.1h0M402.3 134h0M407.4 102.2h0M407.6 125h0M405.4 102.6h0M408.3 134h0M410.7 136.1h0M411.6 133.2h0M411.2 136.4h0M411 113h0M411.7 118.1h0M397.9 133.3h0M411.7 131.6h0M408.1 102.8h0M405.9 90.2h0M404.1 137.5h0M411.1 126.2h0M406.5 128.6h0M411.5 124.7h0M408 113.3h0M409.6 112.4h0M411.7 128.6h0M405.8 92.6h0M402.9 108.6h0M411.4 120.6h0M411.5 125.2h0M410.6 105.5h0M409 137.3h0M410.7 114.7h0M404.6 134.6h0M410.7 131.5h0M408 131.8h0M409.8 94.9h0M407.7 132.1h0M410.6 111.9h0M405.7 125h0M407.5 123.9h0M407.8 114.7h0M405.2 41h0M397.7 65.8h0M408.5 62h0M411.5 61.3h0M414 77h0M404 74h0M408 80h0M400 82h0" stroke="#8fd3e8" stroke-width="3" stroke-linecap="round" fill="none"/>
<path d="M435 129.9h0M435.4 135.9h0M438.6 136.4h0M437.4 123.1h0M435.4 129.3h0M441.1 101.7h0M441.8 112.7h0M441.1 116.2h0M436.3 135.4h0M438.3 136h0M443.6 135.6h0M435.9 123h0M435.6 92.5h0M445.5 119.5h0M442.8 133h0M435.9 124.3h0M435.5 117h0M437.4 133.8h0M440.5 127.7h0M441 131.1h0M441.1 136.6h0M440.5 131.3h0M435.9 116.4h0M443.6 121.7h0M435.4 127h0M438.7 124.8h0M440.2 123.3h0M435.1 114.3h0M435.2 130.8h0M440.3 129.1h0M438.9 127.1h0M440.4 126.6h0M438.8 107.4h0M440.5 130.1h0M438.6 120.7h0M436.2 137h0M438.4 131.1h0M435.6 133.8h0M444.5 132.7h0M435 136.9h0M438.4 128.9h0M439.9 83.4h0M438.8 111.5h0M435.9 114.2h0M442.8 103h0M437.7 129.8h0M438.8 126.3h0M443.9 135.5h0M435 136.5h0M436.4 128.3h0M435.4 137.6h0M438.9 126.1h0M438.7 137h0M435.6 121.6h0M435 133.5h0M439.3 128.7h0M435.2 133.9h0M439.8 131.8h0M445.9 132h0M438 135.6h0M436.7 131.5h0M437 129.9h0M438.9 136.8h0M436.9 129.3h0M437.3 121.9h0M439.1 129.8h0M436.1 137.6h0M435.5 127.3h0M444.4 116.1h0M435.3 128.5h0M445 104.6h0M440.1 105.3h0M442.2 130.9h0M436.1 130.6h0M436.4 132.3h0M436.1 105.2h0M435.2 130.8h0M438.1 126h0M437 123.8h0M448.7 124.2h0M439.3 120.1h0M443.9 127.9h0M441.7 132.1h0M445.2 127.4h0M440 130.2h0M437.1 80.6h0M438.4 137.2h0M437.3 128.7h0M443 128.8h0M436.5 120.4h0M437.7 133.8h0M440.8 109h0M435.7 112.7h0M446.1 124.9h0M441.6 132.7h0M448.9 106.2h0M436.5 135.8h0M442.2 127.1h0M436.1 131.4h0M439.8 135.2h0M438.8 135.7h0M435.6 112.9h0M437.7 131.6h0M442.7 123.2h0M434.7 132h0M438.9 127h0M438.5 134.7h0M435.1 135.3h0M438.8 112.6h0M439.3 136.7h0M438.3 115.9h0M443.1 119.4h0M445 130.5h0M437.6 135.5h0M440 99.2h0M444 123.1h0M437.6 128.6h0M438.2 129.1h0M437.6 127.5h0M438.6 123.3h0M437.3 136h0M436.9 124.1h0M439.8 127.2h0M435.4 133.3h0M435.3 121.6h0M443.9 126.5h0M437.2 109.5h0M441.7 128.6h0M435.7 135.4h0M437.5 119.7h0M436.8 136.1h0M441.7 137.4h0M436.4 137.6h0M440.5 112.3h0M441.2 115.3h0M443.4 114.5h0M439.2 133.4h0M443.3 126.8h0M441.5 128.2h0M438.2 124.6h0M445.4 105.2h0M437 135.4h0M439 123h0M440.2 132.6h0M443.1 111.5h0M440.5 130h0M443.2 133.7h0M436.2 136.3h0M435.7 97.3h0M442.2 89.2h0M436.2 128.4h0M438.7 137.6h0M437 126h0M435 136.2h0M437.4 87h0M441.9 85.7h0M438.3 132.1h0M441.1 136.7h0M434.7 136.1h0M441.4 135.2h0M437.7 31.3h0M435.6 52.3h0M438.6 56h0M446.8 65h0M450.5 68.8h0M436 65h0M441 75h0M437 80h0M445 83h0" stroke="#f46ccb" stroke-width="3" stroke-linecap="round" fill="none"/>
<path d="M370.8 138.7H580.6" stroke="#222" stroke-width="0.8" stroke-dasharray="2 1.8" fill="none"/>
<path d="M413.5 24.1V202.6" stroke="#808080" stroke-width="1.1" stroke-dasharray="1.7 1.7" fill="none"/>
<path d="M433.5 24.1V202.6" stroke="#808080" stroke-width="1.1" stroke-dasharray="1.7 1.7" fill="none"/>
</g>
<circle cx="385.4" cy="37.7" r="2.6" fill="#f0d928" stroke="#111" stroke-width="0.75"/>
<circle cx="382.6" cy="60.2" r="2.6" fill="#f0d928" stroke="#111" stroke-width="0.75"/>
<circle cx="390.8" cy="77.8" r="2.6" fill="#f0d928" stroke="#111" stroke-width="0.75"/>
<circle cx="389" cy="93.6" r="2.6" fill="#f0d928" stroke="#111" stroke-width="0.75"/>
<circle cx="393.1" cy="93.9" r="2.6" fill="#f0d928" stroke="#111" stroke-width="0.75"/>
<circle cx="389" cy="96.6" r="2.6" fill="#f0d928" stroke="#111" stroke-width="0.75"/>
<circle cx="392.5" cy="98.5" r="2.6" fill="#f0d928" stroke="#111" stroke-width="0.75"/>
<circle cx="389.8" cy="116.7" r="2.6" fill="#f0d928" stroke="#111" stroke-width="0.75"/>
<circle cx="380" cy="129.8" r="2.6" fill="#f0d928" stroke="#111" stroke-width="0.75"/>
<circle cx="395.8" cy="130.5" r="2.6" fill="#f0d928" stroke="#111" stroke-width="0.75"/>
<circle cx="445.8" cy="71.4" r="2.6" fill="#f0d928" stroke="#111" stroke-width="0.75"/>
<circle cx="468.5" cy="81.5" r="2.6" fill="#f0d928" stroke="#111" stroke-width="0.75"/>
<circle cx="463" cy="90.7" r="2.6" fill="#f0d928" stroke="#111" stroke-width="0.75"/>
<circle cx="445.8" cy="96.9" r="2.6" fill="#f0d928" stroke="#111" stroke-width="0.75"/>
<circle cx="456.4" cy="102.3" r="2.6" fill="#f0d928" stroke="#111" stroke-width="0.75"/>
<circle cx="449.3" cy="112" r="2.6" fill="#f0d928" stroke="#111" stroke-width="0.75"/>
<circle cx="449" cy="119.7" r="2.6" fill="#f0d928" stroke="#111" stroke-width="0.75"/>
<circle cx="452.5" cy="127.9" r="2.6" fill="#f0d928" stroke="#111" stroke-width="0.75"/>
<circle cx="480.1" cy="138.8" r="2.6" fill="#f0d928" stroke="#111" stroke-width="0.75"/>
<circle cx="571.4" cy="115.4" r="2.6" fill="#f0d928" stroke="#111" stroke-width="0.75"/>
<text x="378.2" y="35.5" style="font-family:'Liberation Sans',sans-serif;font-size:5.5px" fill="#1a1a1a" stroke="#1a1a1a" stroke-width="0.15">Gm15441</text>
<text x="376.3" y="58" style="font-family:'Liberation Sans',sans-serif;font-size:5.5px" fill="#1a1a1a" stroke="#1a1a1a" stroke-width="0.15">Mir670hg</text>
<text x="393.5" y="82.4" style="font-family:'Liberation Sans',sans-serif;font-size:5.5px" fill="#1a1a1a" stroke="#1a1a1a" stroke-width="0.15">9430065M16Rik</text>
<text x="379.3" y="90.3" style="font-family:'Liberation Sans',sans-serif;font-size:5.5px" fill="#1a1a1a" stroke="#1a1a1a" stroke-width="0.15">Themis</text>
<text x="397.3" y="97" style="font-family:'Liberation Sans',sans-serif;font-size:5.5px" fill="#1a1a1a" stroke="#1a1a1a" stroke-width="0.15">Zfp879</text>
<text x="372.2" y="97" style="font-family:'Liberation Sans',sans-serif;font-size:5.5px" fill="#1a1a1a" stroke="#1a1a1a" stroke-width="0.15">Cd3e</text>
<text x="381.5" y="105" style="font-family:'Liberation Sans',sans-serif;font-size:5.5px" fill="#1a1a1a" stroke="#1a1a1a" stroke-width="0.15">Gm62341</text>
<text x="373.3" y="122.5" style="font-family:'Liberation Sans',sans-serif;font-size:5.5px" fill="#1a1a1a" stroke="#1a1a1a" stroke-width="0.15">Gm38487</text>
<text x="371.8" y="128.8" style="font-family:'Liberation Sans',sans-serif;font-size:5.5px" fill="#1a1a1a" stroke="#1a1a1a" stroke-width="0.15">Mx1</text>
<text x="390.8" y="137" style="font-family:'Liberation Sans',sans-serif;font-size:5.5px" fill="#1a1a1a" stroke="#1a1a1a" stroke-width="0.15">Rad51b</text>
<text x="443.3" y="78" style="font-family:'Liberation Sans',sans-serif;font-size:5.5px" fill="#1a1a1a" stroke="#1a1a1a" stroke-width="0.15">Fkbp5</text>
<text x="468" y="78.9" style="font-family:'Liberation Sans',sans-serif;font-size:5.5px" fill="#1a1a1a" stroke="#1a1a1a" stroke-width="0.15">Nbl1</text>
<text x="460.1" y="88.7" style="font-family:'Liberation Sans',sans-serif;font-size:5.5px" fill="#1a1a1a" stroke="#1a1a1a" stroke-width="0.15">Upk3b</text>
<text x="430.3" y="94.8" style="font-family:'Liberation Sans',sans-serif;font-size:5.5px" fill="#1a1a1a" stroke="#1a1a1a" stroke-width="0.15">Chrna4c</text>
<text x="452.7" y="109.1" style="font-family:'Liberation Sans',sans-serif;font-size:5.5px" fill="#1a1a1a" stroke="#1a1a1a" stroke-width="0.15">Scara5</text>
<text x="429.9" y="117.8" style="font-family:'Liberation Sans',sans-serif;font-size:5.5px" fill="#1a1a1a" stroke="#1a1a1a" stroke-width="0.15">Large2</text>
<text x="433.3" y="126.2" style="font-family:'Liberation Sans',sans-serif;font-size:5.5px" fill="#1a1a1a" stroke="#1a1a1a" stroke-width="0.15">Slc9b1</text>
<text x="449.9" y="134.9" style="font-family:'Liberation Sans',sans-serif;font-size:5.5px" fill="#1a1a1a" stroke="#1a1a1a" stroke-width="0.15">Adgrf1</text>
<text x="477.9" y="136.4" style="font-family:'Liberation Sans',sans-serif;font-size:5.5px" fill="#1a1a1a" stroke="#1a1a1a" stroke-width="0.15">Cela1</text>
<text x="557.6" y="113.5" style="font-family:'Liberation Sans',sans-serif;font-size:5.5px" fill="#1a1a1a" stroke="#1a1a1a" stroke-width="0.15">Cela2a</text>
<rect x="370.8" y="24.1" width="209.8" height="178.5" fill="none" stroke="#666" stroke-width="0.8"/>
<path d="M370.8 24.1V202.6H580.6" stroke="#111" stroke-width="1.1" fill="none"/>
<text x="367.8" y="195.6" style="font-family:'Liberation Sans',sans-serif;font-size:6.5px" fill="#333" text-anchor="end">0</text>
<text x="367.8" y="153.6" style="font-family:'Liberation Sans',sans-serif;font-size:6.5px" fill="#333" text-anchor="end">1</text>
<text x="367.8" y="111.6" style="font-family:'Liberation Sans',sans-serif;font-size:6.5px" fill="#333" text-anchor="end">2</text>
<text x="367.8" y="69.6" style="font-family:'Liberation Sans',sans-serif;font-size:6.5px" fill="#333" text-anchor="end">3</text>
<text x="367.8" y="27.6" style="font-family:'Liberation Sans',sans-serif;font-size:6.5px" fill="#333" text-anchor="end">4</text>
<text x="371.1" y="210.4" style="font-family:'Liberation Sans',sans-serif;font-size:6.4px" fill="#333" text-anchor="middle">-2.5</text>
<text x="423.5" y="210.4" style="font-family:'Liberation Sans',sans-serif;font-size:6.4px" fill="#333" text-anchor="middle">0.0</text>
<text x="475.9" y="210.4" style="font-family:'Liberation Sans',sans-serif;font-size:6.4px" fill="#333" text-anchor="middle">2.5</text>
<text x="528.3" y="210.4" style="font-family:'Liberation Sans',sans-serif;font-size:6.4px" fill="#333" text-anchor="middle">5.0</text>
<text x="580.7" y="210.4" style="font-family:'Liberation Sans',sans-serif;font-size:6.4px" fill="#333" text-anchor="middle">7.5</text>
<path d="M368.6 193.3H370.8M368.6 151.3H370.8M368.6 109.3H370.8M368.6 67.3H370.8M368.6 25.3H370.8M371.1 202.6V204.8M423.5 202.6V204.8M475.9 202.6V204.8M528.3 202.6V204.8M580.7 202.6V204.8" stroke="#333" stroke-width="0.6"/>
<text x="475.7" y="217.8" style="font-family:'Liberation Sans',sans-serif;font-size:6.9px" fill="#111" text-anchor="middle">Log2FC (HFDD/HFD)</text>
<text x="361" y="113" style="font-family:'Liberation Sans',sans-serif;font-size:6.8px" fill="#111" text-anchor="middle" transform="rotate(-90 361 113)">-Log10(p-value)</text>
<text x="591.7" y="101.3" style="font-family:'Liberation Sans',sans-serif;font-size:6.8px" fill="#111">Gene Status</text>
<circle cx="595.5" cy="109.6" r="1.5" fill="#8fd3e8"/>
<text x="603.6" y="111.7" style="font-family:'Liberation Sans',sans-serif;font-size:5.8px" fill="#111">Down</text>
<circle cx="595.5" cy="118.3" r="1.5" fill="#bebebe"/>
<text x="603.6" y="120.4" style="font-family:'Liberation Sans',sans-serif;font-size:5.8px" fill="#111">NS</text>
<circle cx="595.5" cy="127" r="1.5" fill="#f46ccb"/>
<text x="603.6" y="129.1" style="font-family:'Liberation Sans',sans-serif;font-size:5.8px" fill="#111">Up</text>
</g>
<text x="13.5" y="16.9" style="font-family:'Liberation Sans',sans-serif;font-size:18px;font-weight:bold" fill="#000">A</text>
<text x="37.2" y="16.9" style="font-family:'Liberation Sans',sans-serif;font-size:12.5px;font-weight:bold" fill="#000">DEGs: HFD/ND</text>
<text x="345.7" y="13.5" style="font-family:'Liberation Sans',sans-serif;font-size:17.5px;font-weight:bold" fill="#000">B</text>
<text x="370.4" y="13.8" style="font-family:'Liberation Sans',sans-serif;font-size:12.4px;font-weight:bold" fill="#000">DEGs: HFD+D/HFD</text>
<text x="1.6" y="278.2" style="font-family:'Liberation Sans',sans-serif;font-size:16.5px;font-weight:bold" fill="#000">C</text>
<rect x="54" y="367.5" width="22.4" height="54.8" fill="#48a4ad" stroke="#111" stroke-width="1"/>
<rect x="54" y="336.5" width="22.4" height="31" fill="#f07c84" stroke="#111" stroke-width="1"/>
<text x="65.2" y="401.9" style="font-family:'Liberation Sans',sans-serif;font-size:9.5px" fill="#111" text-anchor="middle">720</text>
<text x="65.2" y="357.3" style="font-family:'Liberation Sans',sans-serif;font-size:9.5px" fill="#111" text-anchor="middle">396</text>
<rect x="81.9" y="403.6" width="22.6" height="18.7" fill="#48a4ad" stroke="#111" stroke-width="1"/>
<rect x="81.9" y="389.8" width="22.6" height="13.8" fill="#f07c84" stroke="#111" stroke-width="1"/>
<text x="93.2" y="417.9" style="font-family:'Liberation Sans',sans-serif;font-size:9.5px" fill="#111" text-anchor="middle">257</text>
<text x="93.2" y="400.6" style="font-family:'Liberation Sans',sans-serif;font-size:9.5px" fill="#111" text-anchor="middle">175</text>
<text x="35.6" y="425.6" style="font-family:'Liberation Sans',sans-serif;font-size:9.1px" fill="#111" text-anchor="end">0</text>
<text x="35.6" y="386.7" style="font-family:'Liberation Sans',sans-serif;font-size:9.1px" fill="#111" text-anchor="end">500</text>
<text x="35.6" y="347.8" style="font-family:'Liberation Sans',sans-serif;font-size:9.1px" fill="#111" text-anchor="end">1000</text>
<text x="35.6" y="308.9" style="font-family:'Liberation Sans',sans-serif;font-size:9.1px" fill="#111" text-anchor="end">1500</text>
<path d="M41.2 305V422.3 M37.8 422.3H117.2 M37.8 422.3H41.2 M37.8 383.4H41.2 M37.8 344.5H41.2 M37.8 305.6H41.2 M65.1 422.3V427.6 M92.9 422.3V427.6" stroke="#111" stroke-width="1.1" fill="none"/>
<text x="8.8" y="363.5" style="font-family:'Liberation Sans',sans-serif;font-size:11.1px" fill="#111" text-anchor="middle" transform="rotate(-90 8.8 363.5)">Number of DEGs</text>
<text x="68.8" y="435.8" style="font-family:'Liberation Sans',sans-serif;font-size:9.5px" fill="#111" text-anchor="end" transform="rotate(-45 68.8 435.8)">HFD/ND</text>
<text x="96.6" y="435.8" style="font-family:'Liberation Sans',sans-serif;font-size:9.5px" fill="#111" text-anchor="end" transform="rotate(-45 96.6 435.8)">HFD+D/HFD</text>
<rect x="130.2" y="311.2" width="11.8" height="5.4" fill="#f07c84" stroke="#111" stroke-width="0.9"/>
<rect x="130.2" y="326.8" width="11.8" height="5.4" fill="#48a4ad" stroke="#111" stroke-width="0.9"/>
<text x="149.6" y="317.4" style="font-family:'Liberation Sans',sans-serif;font-size:9.15px" fill="#222">Upregulated</text>
<text x="149.6" y="333" style="font-family:'Liberation Sans',sans-serif;font-size:9.15px" fill="#222">Downregulated</text>
<text x="217.6" y="279.2" style="font-family:'Liberation Sans',sans-serif;font-size:17px;font-weight:bold" fill="#000">D</text>
<text x="235.4" y="279.2" style="font-family:'Liberation Sans',sans-serif;font-size:12.45px;font-weight:bold" fill="#000">Venn diagram for overlapping genes</text>
<defs><clipPath id="cbig"><circle cx="292.6" cy="372.9" r="70.8"/></clipPath></defs>
<circle cx="292.6" cy="372.9" r="70.8" fill="#c9ecf4"/>
<circle cx="381.2" cy="373" r="44.2" fill="#f1bbbb"/>
<circle cx="381.2" cy="373" r="44.2" fill="#d6b1b9" clip-path="url(#cbig)"/>
<circle cx="292.6" cy="372.9" r="70.8" fill="none" stroke="#222" stroke-width="0.8"/>
<circle cx="381.2" cy="373" r="44.2" fill="none" stroke="#222" stroke-width="0.8"/>
<text x="250.8" y="300.9" style="font-family:'Liberation Serif',serif;font-size:8px" fill="#111">HFD/ND</text>
<text x="376.4" y="325.9" style="font-family:'Liberation Serif',serif;font-size:8px" fill="#111">HFD+D/HFD</text>
<text x="279.7" y="376.4" style="font-family:'Liberation Serif',serif;font-size:9px" fill="#111" text-anchor="middle">1026</text>
<text x="350.1" y="376.4" style="font-family:'Liberation Serif',serif;font-size:9px" fill="#111" text-anchor="middle">90</text>
<text x="394.2" y="376.4" style="font-family:'Liberation Serif',serif;font-size:9px" fill="#111" text-anchor="middle">342</text>
<text x="489.3" y="279.1" style="font-family:'Liberation Sans',sans-serif;font-size:15.5px;font-weight:bold" fill="#000">E</text>
<text x="510.6" y="279.4" style="font-family:'Liberation Sans',sans-serif;font-size:12.4px;font-weight:bold" fill="#000">Heatmap of rescued genes</text>
<rect x="524.9" y="327.6" width="11.9" height="3" fill="#8585ff"/>
<rect x="536.7" y="327.6" width="11.9" height="3" fill="#c5c5ff"/>
<rect x="548.5" y="327.6" width="11.9" height="3" fill="#ffcece"/>
<rect x="560.3" y="327.6" width="11.9" height="3" fill="#ff8585"/>
<rect x="572.1" y="327.6" width="11.9" height="3" fill="#ff5959"/>
<rect x="584" y="327.6" width="11.9" height="3" fill="#ff1919"/>
<rect x="595.8" y="327.6" width="11.9" height="3" fill="#5959ff"/>
<rect x="607.6" y="327.6" width="11.9" height="3" fill="#c5c5ff"/>
<rect x="619.4" y="327.6" width="11.9" height="3" fill="#5959ff"/>
<rect x="524.9" y="330.6" width="11.9" height="3" fill="#c5c5ff"/>
<rect x="536.7" y="330.6" width="11.9" height="3" fill="#ffcece"/>
<rect x="548.5" y="330.6" width="11.9" height="3" fill="#c5c5ff"/>
<rect x="560.3" y="330.6" width="11.9" height="3" fill="#ff5959"/>
<rect x="572.1" y="330.6" width="11.9" height="3" fill="#ff8585"/>
<rect x="584" y="330.6" width="11.9" height="3" fill="#ff1919"/>
<rect x="595.8" y="330.6" width="11.9" height="3" fill="#8585ff"/>
<rect x="607.6" y="330.6" width="11.9" height="3" fill="#c5c5ff"/>
<rect x="619.4" y="330.6" width="11.9" height="3" fill="#5959ff"/>
<rect x="524.9" y="333.5" width="11.9" height="3" fill="#1919ff"/>
<rect x="536.7" y="333.5" width="11.9" height="3" fill="#8585ff"/>
<rect x="548.5" y="333.5" width="11.9" height="3" fill="#ffcece"/>
<rect x="560.3" y="333.5" width="11.9" height="3" fill="#ff8585"/>
<rect x="572.1" y="333.5" width="11.9" height="3" fill="#ff8585"/>
<rect x="584" y="333.5" width="11.9" height="3" fill="#ff1919"/>
<rect x="595.8" y="333.5" width="11.9" height="3" fill="#ffffff"/>
<rect x="607.6" y="333.5" width="11.9" height="3" fill="#c5c5ff"/>
<rect x="619.4" y="333.5" width="11.9" height="3" fill="#8585ff"/>
<rect x="524.9" y="336.5" width="11.9" height="3" fill="#8585ff"/>
<rect x="536.7" y="336.5" width="11.9" height="3" fill="#8585ff"/>
<rect x="548.5" y="336.5" width="11.9" height="3" fill="#c5c5ff"/>
<rect x="560.3" y="336.5" width="11.9" height="3" fill="#ffffff"/>
<rect x="572.1" y="336.5" width="11.9" height="3" fill="#ff5959"/>
<rect x="584" y="336.5" width="11.9" height="3" fill="#ff1919"/>
<rect x="595.8" y="336.5" width="11.9" height="3" fill="#ffcece"/>
<rect x="607.6" y="336.5" width="11.9" height="3" fill="#c5c5ff"/>
<rect x="619.4" y="336.5" width="11.9" height="3" fill="#5959ff"/>
<rect x="524.9" y="339.4" width="11.9" height="3" fill="#8585ff"/>
<rect x="536.7" y="339.4" width="11.9" height="3" fill="#8585ff"/>
<rect x="548.5" y="339.4" width="11.9" height="3" fill="#c5c5ff"/>
<rect x="560.3" y="339.4" width="11.9" height="3" fill="#ff5959"/>
<rect x="572.1" y="339.4" width="11.9" height="3" fill="#ff5959"/>
<rect x="584" y="339.4" width="11.9" height="3" fill="#ff5959"/>
<rect x="595.8" y="339.4" width="11.9" height="3" fill="#ffffff"/>
<rect x="607.6" y="339.4" width="11.9" height="3" fill="#c5c5ff"/>
<rect x="619.4" y="339.4" width="11.9" height="3" fill="#5959ff"/>
<rect x="524.9" y="342.4" width="11.9" height="3" fill="#c5c5ff"/>
<rect x="536.7" y="342.4" width="11.9" height="3" fill="#c5c5ff"/>
<rect x="548.5" y="342.4" width="11.9" height="3" fill="#c5c5ff"/>
<rect x="560.3" y="342.4" width="11.9" height="3" fill="#ff1919"/>
<rect x="572.1" y="342.4" width="11.9" height="3" fill="#c5c5ff"/>
<rect x="584" y="342.4" width="11.9" height="3" fill="#ff5959"/>
<rect x="595.8" y="342.4" width="11.9" height="3" fill="#c5c5ff"/>
<rect x="607.6" y="342.4" width="11.9" height="3" fill="#ffcece"/>
<rect x="619.4" y="342.4" width="11.9" height="3" fill="#1919ff"/>
<rect x="524.9" y="345.3" width="11.9" height="3" fill="#c5c5ff"/>
<rect x="536.7" y="345.3" width="11.9" height="3" fill="#ffcece"/>
<rect x="548.5" y="345.3" width="11.9" height="3" fill="#8585ff"/>
<rect x="560.3" y="345.3" width="11.9" height="3" fill="#ff8585"/>
<rect x="572.1" y="345.3" width="11.9" height="3" fill="#ff8585"/>
<rect x="584" y="345.3" width="11.9" height="3" fill="#ff1919"/>
<rect x="595.8" y="345.3" width="11.9" height="3" fill="#c5c5ff"/>
<rect x="607.6" y="345.3" width="11.9" height="3" fill="#8585ff"/>
<rect x="619.4" y="345.3" width="11.9" height="3" fill="#8585ff"/>
<rect x="524.9" y="348.3" width="11.9" height="3" fill="#8585ff"/>
<rect x="536.7" y="348.3" width="11.9" height="3" fill="#ffffff"/>
<rect x="548.5" y="348.3" width="11.9" height="3" fill="#5959ff"/>
<rect x="560.3" y="348.3" width="11.9" height="3" fill="#ffcece"/>
<rect x="572.1" y="348.3" width="11.9" height="3" fill="#ff8585"/>
<rect x="584" y="348.3" width="11.9" height="3" fill="#ff1919"/>
<rect x="595.8" y="348.3" width="11.9" height="3" fill="#ffcece"/>
<rect x="607.6" y="348.3" width="11.9" height="3" fill="#c5c5ff"/>
<rect x="619.4" y="348.3" width="11.9" height="3" fill="#8585ff"/>
<rect x="524.9" y="351.2" width="11.9" height="3" fill="#8585ff"/>
<rect x="536.7" y="351.2" width="11.9" height="3" fill="#ffcece"/>
<rect x="548.5" y="351.2" width="11.9" height="3" fill="#8585ff"/>
<rect x="560.3" y="351.2" width="11.9" height="3" fill="#ffcece"/>
<rect x="572.1" y="351.2" width="11.9" height="3" fill="#ff8585"/>
<rect x="584" y="351.2" width="11.9" height="3" fill="#ff1919"/>
<rect x="595.8" y="351.2" width="11.9" height="3" fill="#ffcece"/>
<rect x="607.6" y="351.2" width="11.9" height="3" fill="#c5c5ff"/>
<rect x="619.4" y="351.2" width="11.9" height="3" fill="#1919ff"/>
<rect x="524.9" y="354.2" width="11.9" height="3" fill="#c5c5ff"/>
<rect x="536.7" y="354.2" width="11.9" height="3" fill="#c5c5ff"/>
<rect x="548.5" y="354.2" width="11.9" height="3" fill="#1919ff"/>
<rect x="560.3" y="354.2" width="11.9" height="3" fill="#ff1919"/>
<rect x="572.1" y="354.2" width="11.9" height="3" fill="#ffcece"/>
<rect x="584" y="354.2" width="11.9" height="3" fill="#ff8585"/>
<rect x="595.8" y="354.2" width="11.9" height="3" fill="#c5c5ff"/>
<rect x="607.6" y="354.2" width="11.9" height="3" fill="#ffcece"/>
<rect x="619.4" y="354.2" width="11.9" height="3" fill="#c5c5ff"/>
<rect x="524.9" y="357.1" width="11.9" height="3" fill="#8585ff"/>
<rect x="536.7" y="357.1" width="11.9" height="3" fill="#c5c5ff"/>
<rect x="548.5" y="357.1" width="11.9" height="3" fill="#1919ff"/>
<rect x="560.3" y="357.1" width="11.9" height="3" fill="#ff8585"/>
<rect x="572.1" y="357.1" width="11.9" height="3" fill="#ffcece"/>
<rect x="584" y="357.1" width="11.9" height="3" fill="#ff1919"/>
<rect x="595.8" y="357.1" width="11.9" height="3" fill="#c5c5ff"/>
<rect x="607.6" y="357.1" width="11.9" height="3" fill="#ffffff"/>
<rect x="619.4" y="357.1" width="11.9" height="3" fill="#ffcece"/>
<rect x="524.9" y="360.1" width="11.9" height="3" fill="#c5c5ff"/>
<rect x="536.7" y="360.1" width="11.9" height="3" fill="#c5c5ff"/>
<rect x="548.5" y="360.1" width="11.9" height="3" fill="#1919ff"/>
<rect x="560.3" y="360.1" width="11.9" height="3" fill="#ff8585"/>
<rect x="572.1" y="360.1" width="11.9" height="3" fill="#ff8585"/>
<rect x="584" y="360.1" width="11.9" height="3" fill="#ff1919"/>
<rect x="595.8" y="360.1" width="11.9" height="3" fill="#ffffff"/>
<rect x="607.6" y="360.1" width="11.9" height="3" fill="#ffffff"/>
<rect x="619.4" y="360.1" width="11.9" height="3" fill="#ffffff"/>
<rect x="524.9" y="363" width="11.9" height="3" fill="#8585ff"/>
<rect x="536.7" y="363" width="11.9" height="3" fill="#8585ff"/>
<rect x="548.5" y="363" width="11.9" height="3" fill="#5959ff"/>
<rect x="560.3" y="363" width="11.9" height="3" fill="#ff8585"/>
<rect x="572.1" y="363" width="11.9" height="3" fill="#ff8585"/>
<rect x="584" y="363" width="11.9" height="3" fill="#ff1919"/>
<rect x="595.8" y="363" width="11.9" height="3" fill="#ffffff"/>
<rect x="607.6" y="363" width="11.9" height="3" fill="#c5c5ff"/>
<rect x="619.4" y="363" width="11.9" height="3" fill="#8585ff"/>
<rect x="524.9" y="366" width="11.9" height="3" fill="#c5c5ff"/>
<rect x="536.7" y="366" width="11.9" height="3" fill="#c5c5ff"/>
<rect x="548.5" y="366" width="11.9" height="3" fill="#5959ff"/>
<rect x="560.3" y="366" width="11.9" height="3" fill="#ff8585"/>
<rect x="572.1" y="366" width="11.9" height="3" fill="#ff8585"/>
<rect x="584" y="366" width="11.9" height="3" fill="#ff1919"/>
<rect x="595.8" y="366" width="11.9" height="3" fill="#ffffff"/>
<rect x="607.6" y="366" width="11.9" height="3" fill="#ffffff"/>
<rect x="619.4" y="366" width="11.9" height="3" fill="#c5c5ff"/>
<rect x="524.9" y="368.9" width="11.9" height="3" fill="#8585ff"/>
<rect x="536.7" y="368.9" width="11.9" height="3" fill="#c5c5ff"/>
<rect x="548.5" y="368.9" width="11.9" height="3" fill="#5959ff"/>
<rect x="560.3" y="368.9" width="11.9" height="3" fill="#ff8585"/>
<rect x="572.1" y="368.9" width="11.9" height="3" fill="#ffcece"/>
<rect x="584" y="368.9" width="11.9" height="3" fill="#ff1919"/>
<rect x="595.8" y="368.9" width="11.9" height="3" fill="#ffcece"/>
<rect x="607.6" y="368.9" width="11.9" height="3" fill="#8585ff"/>
<rect x="619.4" y="368.9" width="11.9" height="3" fill="#c5c5ff"/>
<rect x="524.9" y="371.9" width="11.9" height="3" fill="#8585ff"/>
<rect x="536.7" y="371.9" width="11.9" height="3" fill="#c5c5ff"/>
<rect x="548.5" y="371.9" width="11.9" height="3" fill="#8585ff"/>
<rect x="560.3" y="371.9" width="11.9" height="3" fill="#ff8585"/>
<rect x="572.1" y="371.9" width="11.9" height="3" fill="#ffcece"/>
<rect x="584" y="371.9" width="11.9" height="3" fill="#ff1919"/>
<rect x="595.8" y="371.9" width="11.9" height="3" fill="#ffffff"/>
<rect x="607.6" y="371.9" width="11.9" height="3" fill="#8585ff"/>
<rect x="619.4" y="371.9" width="11.9" height="3" fill="#8585ff"/>
<rect x="524.9" y="374.8" width="11.9" height="3" fill="#5959ff"/>
<rect x="536.7" y="374.8" width="11.9" height="3" fill="#c5c5ff"/>
<rect x="548.5" y="374.8" width="11.9" height="3" fill="#c5c5ff"/>
<rect x="560.3" y="374.8" width="11.9" height="3" fill="#ff8585"/>
<rect x="572.1" y="374.8" width="11.9" height="3" fill="#ff8585"/>
<rect x="584" y="374.8" width="11.9" height="3" fill="#ff5959"/>
<rect x="595.8" y="374.8" width="11.9" height="3" fill="#8585ff"/>
<rect x="607.6" y="374.8" width="11.9" height="3" fill="#ffcece"/>
<rect x="619.4" y="374.8" width="11.9" height="3" fill="#c5c5ff"/>
<rect x="524.9" y="377.8" width="11.9" height="3" fill="#8585ff"/>
<rect x="536.7" y="377.8" width="11.9" height="3" fill="#5959ff"/>
<rect x="548.5" y="377.8" width="11.9" height="3" fill="#c5c5ff"/>
<rect x="560.3" y="377.8" width="11.9" height="3" fill="#ff8585"/>
<rect x="572.1" y="377.8" width="11.9" height="3" fill="#ff5959"/>
<rect x="584" y="377.8" width="11.9" height="3" fill="#ff8585"/>
<rect x="595.8" y="377.8" width="11.9" height="3" fill="#c5c5ff"/>
<rect x="607.6" y="377.8" width="11.9" height="3" fill="#ffffff"/>
<rect x="619.4" y="377.8" width="11.9" height="3" fill="#c5c5ff"/>
<rect x="524.9" y="380.7" width="11.9" height="3" fill="#8585ff"/>
<rect x="536.7" y="380.7" width="11.9" height="3" fill="#5959ff"/>
<rect x="548.5" y="380.7" width="11.9" height="3" fill="#8585ff"/>
<rect x="560.3" y="380.7" width="11.9" height="3" fill="#ff8585"/>
<rect x="572.1" y="380.7" width="11.9" height="3" fill="#ff8585"/>
<rect x="584" y="380.7" width="11.9" height="3" fill="#ff1919"/>
<rect x="595.8" y="380.7" width="11.9" height="3" fill="#c5c5ff"/>
<rect x="607.6" y="380.7" width="11.9" height="3" fill="#ffffff"/>
<rect x="619.4" y="380.7" width="11.9" height="3" fill="#ffcece"/>
<rect x="524.9" y="383.7" width="11.9" height="3" fill="#8585ff"/>
<rect x="536.7" y="383.7" width="11.9" height="3" fill="#5959ff"/>
<rect x="548.5" y="383.7" width="11.9" height="3" fill="#8585ff"/>
<rect x="560.3" y="383.7" width="11.9" height="3" fill="#ff8585"/>
<rect x="572.1" y="383.7" width="11.9" height="3" fill="#ff8585"/>
<rect x="584" y="383.7" width="11.9" height="3" fill="#ff5959"/>
<rect x="595.8" y="383.7" width="11.9" height="3" fill="#c5c5ff"/>
<rect x="607.6" y="383.7" width="11.9" height="3" fill="#ffffff"/>
<rect x="619.4" y="383.7" width="11.9" height="3" fill="#ffcece"/>
<rect x="524.9" y="386.6" width="11.9" height="3" fill="#8585ff"/>
<rect x="536.7" y="386.6" width="11.9" height="3" fill="#5959ff"/>
<rect x="548.5" y="386.6" width="11.9" height="3" fill="#1919ff"/>
<rect x="560.3" y="386.6" width="11.9" height="3" fill="#ff8585"/>
<rect x="572.1" y="386.6" width="11.9" height="3" fill="#ff8585"/>
<rect x="584" y="386.6" width="11.9" height="3" fill="#ff5959"/>
<rect x="595.8" y="386.6" width="11.9" height="3" fill="#8585ff"/>
<rect x="607.6" y="386.6" width="11.9" height="3" fill="#ffffff"/>
<rect x="619.4" y="386.6" width="11.9" height="3" fill="#ffcece"/>
<rect x="524.9" y="389.6" width="11.9" height="3" fill="#5959ff"/>
<rect x="536.7" y="389.6" width="11.9" height="3" fill="#5959ff"/>
<rect x="548.5" y="389.6" width="11.9" height="3" fill="#8585ff"/>
<rect x="560.3" y="389.6" width="11.9" height="3" fill="#ff8585"/>
<rect x="572.1" y="389.6" width="11.9" height="3" fill="#ff5959"/>
<rect x="584" y="389.6" width="11.9" height="3" fill="#ff8585"/>
<rect x="595.8" y="389.6" width="11.9" height="3" fill="#ffcece"/>
<rect x="607.6" y="389.6" width="11.9" height="3" fill="#ffcece"/>
<rect x="619.4" y="389.6" width="11.9" height="3" fill="#ffffff"/>
<rect x="524.9" y="392.5" width="11.9" height="3" fill="#c5c5ff"/>
<rect x="536.7" y="392.5" width="11.9" height="3" fill="#8585ff"/>
<rect x="548.5" y="392.5" width="11.9" height="3" fill="#8585ff"/>
<rect x="560.3" y="392.5" width="11.9" height="3" fill="#ffcece"/>
<rect x="572.1" y="392.5" width="11.9" height="3" fill="#ff1919"/>
<rect x="584" y="392.5" width="11.9" height="3" fill="#ff5959"/>
<rect x="595.8" y="392.5" width="11.9" height="3" fill="#c5c5ff"/>
<rect x="607.6" y="392.5" width="11.9" height="3" fill="#8585ff"/>
<rect x="619.4" y="392.5" width="11.9" height="3" fill="#ffffff"/>
<rect x="524.9" y="395.5" width="11.9" height="3" fill="#c5c5ff"/>
<rect x="536.7" y="395.5" width="11.9" height="3" fill="#8585ff"/>
<rect x="548.5" y="395.5" width="11.9" height="3" fill="#c5c5ff"/>
<rect x="560.3" y="395.5" width="11.9" height="3" fill="#ffffff"/>
<rect x="572.1" y="395.5" width="11.9" height="3" fill="#ff1919"/>
<rect x="584" y="395.5" width="11.9" height="3" fill="#ff1919"/>
<rect x="595.8" y="395.5" width="11.9" height="3" fill="#c5c5ff"/>
<rect x="607.6" y="395.5" width="11.9" height="3" fill="#8585ff"/>
<rect x="619.4" y="395.5" width="11.9" height="3" fill="#ffffff"/>
<rect x="524.9" y="398.4" width="11.9" height="3" fill="#8585ff"/>
<rect x="536.7" y="398.4" width="11.9" height="3" fill="#c5c5ff"/>
<rect x="548.5" y="398.4" width="11.9" height="3" fill="#8585ff"/>
<rect x="560.3" y="398.4" width="11.9" height="3" fill="#ffcece"/>
<rect x="572.1" y="398.4" width="11.9" height="3" fill="#ff1919"/>
<rect x="584" y="398.4" width="11.9" height="3" fill="#ff8585"/>
<rect x="595.8" y="398.4" width="11.9" height="3" fill="#ffffff"/>
<rect x="607.6" y="398.4" width="11.9" height="3" fill="#c5c5ff"/>
<rect x="619.4" y="398.4" width="11.9" height="3" fill="#ffcece"/>
<rect x="524.9" y="401.4" width="11.9" height="3" fill="#1919ff"/>
<rect x="536.7" y="401.4" width="11.9" height="3" fill="#c5c5ff"/>
<rect x="548.5" y="401.4" width="11.9" height="3" fill="#8585ff"/>
<rect x="560.3" y="401.4" width="11.9" height="3" fill="#ffcece"/>
<rect x="572.1" y="401.4" width="11.9" height="3" fill="#ff5959"/>
<rect x="584" y="401.4" width="11.9" height="3" fill="#ff1919"/>
<rect x="595.8" y="401.4" width="11.9" height="3" fill="#ffcece"/>
<rect x="607.6" y="401.4" width="11.9" height="3" fill="#c5c5ff"/>
<rect x="619.4" y="401.4" width="11.9" height="3" fill="#ffcece"/>
<rect x="524.9" y="404.3" width="11.9" height="3" fill="#5959ff"/>
<rect x="536.7" y="404.3" width="11.9" height="3" fill="#8585ff"/>
<rect x="548.5" y="404.3" width="11.9" height="3" fill="#8585ff"/>
<rect x="560.3" y="404.3" width="11.9" height="3" fill="#ffcece"/>
<rect x="572.1" y="404.3" width="11.9" height="3" fill="#ff5959"/>
<rect x="584" y="404.3" width="11.9" height="3" fill="#ff5959"/>
<rect x="595.8" y="404.3" width="11.9" height="3" fill="#ffffff"/>
<rect x="607.6" y="404.3" width="11.9" height="3" fill="#c5c5ff"/>
<rect x="619.4" y="404.3" width="11.9" height="3" fill="#ffcece"/>
<rect x="524.9" y="407.3" width="11.9" height="3" fill="#8585ff"/>
<rect x="536.7" y="407.3" width="11.9" height="3" fill="#8585ff"/>
<rect x="548.5" y="407.3" width="11.9" height="3" fill="#c5c5ff"/>
<rect x="560.3" y="407.3" width="11.9" height="3" fill="#ffcece"/>
<rect x="572.1" y="407.3" width="11.9" height="3" fill="#ff5959"/>
<rect x="584" y="407.3" width="11.9" height="3" fill="#ff1919"/>
<rect x="595.8" y="407.3" width="11.9" height="3" fill="#c5c5ff"/>
<rect x="607.6" y="407.3" width="11.9" height="3" fill="#c5c5ff"/>
<rect x="619.4" y="407.3" width="11.9" height="3" fill="#ffffff"/>
<rect x="524.9" y="410.2" width="11.9" height="3" fill="#c5c5ff"/>
<rect x="536.7" y="410.2" width="11.9" height="3" fill="#ffffff"/>
<rect x="548.5" y="410.2" width="11.9" height="3" fill="#ffffff"/>
<rect x="560.3" y="410.2" width="11.9" height="3" fill="#ffcece"/>
<rect x="572.1" y="410.2" width="11.9" height="3" fill="#ff1919"/>
<rect x="584" y="410.2" width="11.9" height="3" fill="#ff8585"/>
<rect x="595.8" y="410.2" width="11.9" height="3" fill="#8585ff"/>
<rect x="607.6" y="410.2" width="11.9" height="3" fill="#c5c5ff"/>
<rect x="619.4" y="410.2" width="11.9" height="3" fill="#ffffff"/>
<rect x="524.9" y="413.2" width="11.9" height="3" fill="#ffffff"/>
<rect x="536.7" y="413.2" width="11.9" height="3" fill="#c5c5ff"/>
<rect x="548.5" y="413.2" width="11.9" height="3" fill="#1919ff"/>
<rect x="560.3" y="413.2" width="11.9" height="3" fill="#ff8585"/>
<rect x="572.1" y="413.2" width="11.9" height="3" fill="#ff5959"/>
<rect x="584" y="413.2" width="11.9" height="3" fill="#ff5959"/>
<rect x="595.8" y="413.2" width="11.9" height="3" fill="#8585ff"/>
<rect x="607.6" y="413.2" width="11.9" height="3" fill="#c5c5ff"/>
<rect x="619.4" y="413.2" width="11.9" height="3" fill="#ffffff"/>
<rect x="524.9" y="416.1" width="11.9" height="3" fill="#ffcece"/>
<rect x="536.7" y="416.1" width="11.9" height="3" fill="#8585ff"/>
<rect x="548.5" y="416.1" width="11.9" height="3" fill="#8585ff"/>
<rect x="560.3" y="416.1" width="11.9" height="3" fill="#ff5959"/>
<rect x="572.1" y="416.1" width="11.9" height="3" fill="#ff5959"/>
<rect x="584" y="416.1" width="11.9" height="3" fill="#ffcece"/>
<rect x="595.8" y="416.1" width="11.9" height="3" fill="#8585ff"/>
<rect x="607.6" y="416.1" width="11.9" height="3" fill="#ffffff"/>
<rect x="619.4" y="416.1" width="11.9" height="3" fill="#c5c5ff"/>
<rect x="524.9" y="419.1" width="11.9" height="3" fill="#ffffff"/>
<rect x="536.7" y="419.1" width="11.9" height="3" fill="#c5c5ff"/>
<rect x="548.5" y="419.1" width="11.9" height="3" fill="#8585ff"/>
<rect x="560.3" y="419.1" width="11.9" height="3" fill="#ff8585"/>
<rect x="572.1" y="419.1" width="11.9" height="3" fill="#ff5959"/>
<rect x="584" y="419.1" width="11.9" height="3" fill="#ff5959"/>
<rect x="595.8" y="419.1" width="11.9" height="3" fill="#ffcece"/>
<rect x="607.6" y="419.1" width="11.9" height="3" fill="#5959ff"/>
<rect x="619.4" y="419.1" width="11.9" height="3" fill="#8585ff"/>
<rect x="524.9" y="422" width="11.9" height="3" fill="#ffcece"/>
<rect x="536.7" y="422" width="11.9" height="3" fill="#c5c5ff"/>
<rect x="548.5" y="422" width="11.9" height="3" fill="#8585ff"/>
<rect x="560.3" y="422" width="11.9" height="3" fill="#ffcece"/>
<rect x="572.1" y="422" width="11.9" height="3" fill="#ff1919"/>
<rect x="584" y="422" width="11.9" height="3" fill="#ff8585"/>
<rect x="595.8" y="422" width="11.9" height="3" fill="#ffcece"/>
<rect x="607.6" y="422" width="11.9" height="3" fill="#1919ff"/>
<rect x="619.4" y="422" width="11.9" height="3" fill="#8585ff"/>
<rect x="524.9" y="425" width="11.9" height="3" fill="#c5c5ff"/>
<rect x="536.7" y="425" width="11.9" height="3" fill="#8585ff"/>
<rect x="548.5" y="425" width="11.9" height="3" fill="#ffcece"/>
<rect x="560.3" y="425" width="11.9" height="3" fill="#ff1919"/>
<rect x="572.1" y="425" width="11.9" height="3" fill="#ff8585"/>
<rect x="584" y="425" width="11.9" height="3" fill="#ffcece"/>
<rect x="595.8" y="425" width="11.9" height="3" fill="#c5c5ff"/>
<rect x="607.6" y="425" width="11.9" height="3" fill="#8585ff"/>
<rect x="619.4" y="425" width="11.9" height="3" fill="#8585ff"/>
<rect x="524.9" y="427.9" width="11.9" height="3" fill="#8585ff"/>
<rect x="536.7" y="427.9" width="11.9" height="3" fill="#8585ff"/>
<rect x="548.5" y="427.9" width="11.9" height="3" fill="#ffcece"/>
<rect x="560.3" y="427.9" width="11.9" height="3" fill="#ff1919"/>
<rect x="572.1" y="427.9" width="11.9" height="3" fill="#ff5959"/>
<rect x="584" y="427.9" width="11.9" height="3" fill="#ffcece"/>
<rect x="595.8" y="427.9" width="11.9" height="3" fill="#c5c5ff"/>
<rect x="607.6" y="427.9" width="11.9" height="3" fill="#8585ff"/>
<rect x="619.4" y="427.9" width="11.9" height="3" fill="#c5c5ff"/>
<rect x="524.9" y="430.9" width="11.9" height="3" fill="#5959ff"/>
<rect x="536.7" y="430.9" width="11.9" height="3" fill="#ffffff"/>
<rect x="548.5" y="430.9" width="11.9" height="3" fill="#c5c5ff"/>
<rect x="560.3" y="430.9" width="11.9" height="3" fill="#ff5959"/>
<rect x="572.1" y="430.9" width="11.9" height="3" fill="#ff1919"/>
<rect x="584" y="430.9" width="11.9" height="3" fill="#ff8585"/>
<rect x="595.8" y="430.9" width="11.9" height="3" fill="#c5c5ff"/>
<rect x="607.6" y="430.9" width="11.9" height="3" fill="#8585ff"/>
<rect x="619.4" y="430.9" width="11.9" height="3" fill="#8585ff"/>
<rect x="524.9" y="433.8" width="11.9" height="3" fill="#c5c5ff"/>
<rect x="536.7" y="433.8" width="11.9" height="3" fill="#c5c5ff"/>
<rect x="548.5" y="433.8" width="11.9" height="3" fill="#8585ff"/>
<rect x="560.3" y="433.8" width="11.9" height="3" fill="#ff5959"/>
<rect x="572.1" y="433.8" width="11.9" height="3" fill="#ff8585"/>
<rect x="584" y="433.8" width="11.9" height="3" fill="#ff8585"/>
<rect x="595.8" y="433.8" width="11.9" height="3" fill="#c5c5ff"/>
<rect x="607.6" y="433.8" width="11.9" height="3" fill="#1919ff"/>
<rect x="619.4" y="433.8" width="11.9" height="3" fill="#c5c5ff"/>
<rect x="524.9" y="436.8" width="11.9" height="3" fill="#8585ff"/>
<rect x="536.7" y="436.8" width="11.9" height="3" fill="#ffffff"/>
<rect x="548.5" y="436.8" width="11.9" height="3" fill="#8585ff"/>
<rect x="560.3" y="436.8" width="11.9" height="3" fill="#ff5959"/>
<rect x="572.1" y="436.8" width="11.9" height="3" fill="#ff8585"/>
<rect x="584" y="436.8" width="11.9" height="3" fill="#ff5959"/>
<rect x="595.8" y="436.8" width="11.9" height="3" fill="#c5c5ff"/>
<rect x="607.6" y="436.8" width="11.9" height="3" fill="#8585ff"/>
<rect x="619.4" y="436.8" width="11.9" height="3" fill="#ffffff"/>
<rect x="524.9" y="439.7" width="11.9" height="3" fill="#ffcece"/>
<rect x="536.7" y="439.7" width="11.9" height="3" fill="#ff1919"/>
<rect x="548.5" y="439.7" width="11.9" height="3" fill="#ffcece"/>
<rect x="560.3" y="439.7" width="11.9" height="3" fill="#5959ff"/>
<rect x="572.1" y="439.7" width="11.9" height="3" fill="#5959ff"/>
<rect x="584" y="439.7" width="11.9" height="3" fill="#8585ff"/>
<rect x="595.8" y="439.7" width="11.9" height="3" fill="#ff8585"/>
<rect x="607.6" y="439.7" width="11.9" height="3" fill="#ffcece"/>
<rect x="619.4" y="439.7" width="11.9" height="3" fill="#ffffff"/>
<rect x="524.9" y="442.7" width="11.9" height="3" fill="#ffcece"/>
<rect x="536.7" y="442.7" width="11.9" height="3" fill="#ff1919"/>
<rect x="548.5" y="442.7" width="11.9" height="3" fill="#ff8585"/>
<rect x="560.3" y="442.7" width="11.9" height="3" fill="#5959ff"/>
<rect x="572.1" y="442.7" width="11.9" height="3" fill="#1919ff"/>
<rect x="584" y="442.7" width="11.9" height="3" fill="#c5c5ff"/>
<rect x="595.8" y="442.7" width="11.9" height="3" fill="#ff8585"/>
<rect x="607.6" y="442.7" width="11.9" height="3" fill="#c5c5ff"/>
<rect x="619.4" y="442.7" width="11.9" height="3" fill="#ffcece"/>
<rect x="524.9" y="445.6" width="11.9" height="3" fill="#ffcece"/>
<rect x="536.7" y="445.6" width="11.9" height="3" fill="#ff8585"/>
<rect x="548.5" y="445.6" width="11.9" height="3" fill="#ff5959"/>
<rect x="560.3" y="445.6" width="11.9" height="3" fill="#c5c5ff"/>
<rect x="572.1" y="445.6" width="11.9" height="3" fill="#c5c5ff"/>
<rect x="584" y="445.6" width="11.9" height="3" fill="#1919ff"/>
<rect x="595.8" y="445.6" width="11.9" height="3" fill="#ff8585"/>
<rect x="607.6" y="445.6" width="11.9" height="3" fill="#ffffff"/>
<rect x="619.4" y="445.6" width="11.9" height="3" fill="#c5c5ff"/>
<rect x="524.9" y="448.6" width="11.9" height="3" fill="#ff8585"/>
<rect x="536.7" y="448.6" width="11.9" height="3" fill="#ff1919"/>
<rect x="548.5" y="448.6" width="11.9" height="3" fill="#ff5959"/>
<rect x="560.3" y="448.6" width="11.9" height="3" fill="#c5c5ff"/>
<rect x="572.1" y="448.6" width="11.9" height="3" fill="#8585ff"/>
<rect x="584" y="448.6" width="11.9" height="3" fill="#8585ff"/>
<rect x="595.8" y="448.6" width="11.9" height="3" fill="#c5c5ff"/>
<rect x="607.6" y="448.6" width="11.9" height="3" fill="#ffffff"/>
<rect x="619.4" y="448.6" width="11.9" height="3" fill="#8585ff"/>
<rect x="524.9" y="451.5" width="11.9" height="3" fill="#ff8585"/>
<rect x="536.7" y="451.5" width="11.9" height="3" fill="#ff5959"/>
<rect x="548.5" y="451.5" width="11.9" height="3" fill="#ff1919"/>
<rect x="560.3" y="451.5" width="11.9" height="3" fill="#c5c5ff"/>
<rect x="572.1" y="451.5" width="11.9" height="3" fill="#8585ff"/>
<rect x="584" y="451.5" width="11.9" height="3" fill="#8585ff"/>
<rect x="595.8" y="451.5" width="11.9" height="3" fill="#ffffff"/>
<rect x="607.6" y="451.5" width="11.9" height="3" fill="#ffffff"/>
<rect x="619.4" y="451.5" width="11.9" height="3" fill="#8585ff"/>
<rect x="524.9" y="454.5" width="11.9" height="3" fill="#ff5959"/>
<rect x="536.7" y="454.5" width="11.9" height="3" fill="#ff5959"/>
<rect x="548.5" y="454.5" width="11.9" height="3" fill="#ff1919"/>
<rect x="560.3" y="454.5" width="11.9" height="3" fill="#c5c5ff"/>
<rect x="572.1" y="454.5" width="11.9" height="3" fill="#8585ff"/>
<rect x="584" y="454.5" width="11.9" height="3" fill="#8585ff"/>
<rect x="595.8" y="454.5" width="11.9" height="3" fill="#c5c5ff"/>
<rect x="607.6" y="454.5" width="11.9" height="3" fill="#ffffff"/>
<rect x="619.4" y="454.5" width="11.9" height="3" fill="#8585ff"/>
<rect x="524.9" y="457.4" width="11.9" height="3" fill="#ff8585"/>
<rect x="536.7" y="457.4" width="11.9" height="3" fill="#ff5959"/>
<rect x="548.5" y="457.4" width="11.9" height="3" fill="#ff1919"/>
<rect x="560.3" y="457.4" width="11.9" height="3" fill="#c5c5ff"/>
<rect x="572.1" y="457.4" width="11.9" height="3" fill="#c5c5ff"/>
<rect x="584" y="457.4" width="11.9" height="3" fill="#5959ff"/>
<rect x="595.8" y="457.4" width="11.9" height="3" fill="#c5c5ff"/>
<rect x="607.6" y="457.4" width="11.9" height="3" fill="#c5c5ff"/>
<rect x="619.4" y="457.4" width="11.9" height="3" fill="#ffffff"/>
<rect x="524.9" y="460.4" width="11.9" height="3" fill="#ff8585"/>
<rect x="536.7" y="460.4" width="11.9" height="3" fill="#ff5959"/>
<rect x="548.5" y="460.4" width="11.9" height="3" fill="#ff1919"/>
<rect x="560.3" y="460.4" width="11.9" height="3" fill="#8585ff"/>
<rect x="572.1" y="460.4" width="11.9" height="3" fill="#c5c5ff"/>
<rect x="584" y="460.4" width="11.9" height="3" fill="#5959ff"/>
<rect x="595.8" y="460.4" width="11.9" height="3" fill="#ffffff"/>
<rect x="607.6" y="460.4" width="11.9" height="3" fill="#c5c5ff"/>
<rect x="619.4" y="460.4" width="11.9" height="3" fill="#c5c5ff"/>
<rect x="524.9" y="463.3" width="11.9" height="3" fill="#ffcece"/>
<rect x="536.7" y="463.3" width="11.9" height="3" fill="#ff8585"/>
<rect x="548.5" y="463.3" width="11.9" height="3" fill="#ff1919"/>
<rect x="560.3" y="463.3" width="11.9" height="3" fill="#5959ff"/>
<rect x="572.1" y="463.3" width="11.9" height="3" fill="#8585ff"/>
<rect x="584" y="463.3" width="11.9" height="3" fill="#8585ff"/>
<rect x="595.8" y="463.3" width="11.9" height="3" fill="#ffffff"/>
<rect x="607.6" y="463.3" width="11.9" height="3" fill="#c5c5ff"/>
<rect x="619.4" y="463.3" width="11.9" height="3" fill="#ffcece"/>
<rect x="524.9" y="466.3" width="11.9" height="3" fill="#ffcece"/>
<rect x="536.7" y="466.3" width="11.9" height="3" fill="#ffcece"/>
<rect x="548.5" y="466.3" width="11.9" height="3" fill="#ff8585"/>
<rect x="560.3" y="466.3" width="11.9" height="3" fill="#8585ff"/>
<rect x="572.1" y="466.3" width="11.9" height="3" fill="#1919ff"/>
<rect x="584" y="466.3" width="11.9" height="3" fill="#8585ff"/>
<rect x="595.8" y="466.3" width="11.9" height="3" fill="#ffffff"/>
<rect x="607.6" y="466.3" width="11.9" height="3" fill="#ff5959"/>
<rect x="619.4" y="466.3" width="11.9" height="3" fill="#ffcece"/>
<rect x="524.9" y="469.2" width="11.9" height="3" fill="#ff1919"/>
<rect x="536.7" y="469.2" width="11.9" height="3" fill="#ffffff"/>
<rect x="548.5" y="469.2" width="11.9" height="3" fill="#ffffff"/>
<rect x="560.3" y="469.2" width="11.9" height="3" fill="#8585ff"/>
<rect x="572.1" y="469.2" width="11.9" height="3" fill="#1919ff"/>
<rect x="584" y="469.2" width="11.9" height="3" fill="#8585ff"/>
<rect x="595.8" y="469.2" width="11.9" height="3" fill="#ffcece"/>
<rect x="607.6" y="469.2" width="11.9" height="3" fill="#ff5959"/>
<rect x="619.4" y="469.2" width="11.9" height="3" fill="#ff8585"/>
<rect x="524.9" y="472.2" width="11.9" height="3" fill="#ff8585"/>
<rect x="536.7" y="472.2" width="11.9" height="3" fill="#ff8585"/>
<rect x="548.5" y="472.2" width="11.9" height="3" fill="#ffffff"/>
<rect x="560.3" y="472.2" width="11.9" height="3" fill="#8585ff"/>
<rect x="572.1" y="472.2" width="11.9" height="3" fill="#1919ff"/>
<rect x="584" y="472.2" width="11.9" height="3" fill="#5959ff"/>
<rect x="595.8" y="472.2" width="11.9" height="3" fill="#ff8585"/>
<rect x="607.6" y="472.2" width="11.9" height="3" fill="#ff8585"/>
<rect x="619.4" y="472.2" width="11.9" height="3" fill="#ffcece"/>
<rect x="524.9" y="475.1" width="11.9" height="3" fill="#ffffff"/>
<rect x="536.7" y="475.1" width="11.9" height="3" fill="#ff1919"/>
<rect x="548.5" y="475.1" width="11.9" height="3" fill="#ffcece"/>
<rect x="560.3" y="475.1" width="11.9" height="3" fill="#8585ff"/>
<rect x="572.1" y="475.1" width="11.9" height="3" fill="#5959ff"/>
<rect x="584" y="475.1" width="11.9" height="3" fill="#5959ff"/>
<rect x="595.8" y="475.1" width="11.9" height="3" fill="#ff8585"/>
<rect x="607.6" y="475.1" width="11.9" height="3" fill="#ffcece"/>
<rect x="619.4" y="475.1" width="11.9" height="3" fill="#ffcece"/>
<rect x="524.9" y="478.1" width="11.9" height="3" fill="#ff8585"/>
<rect x="536.7" y="478.1" width="11.9" height="3" fill="#ff5959"/>
<rect x="548.5" y="478.1" width="11.9" height="3" fill="#ffcece"/>
<rect x="560.3" y="478.1" width="11.9" height="3" fill="#1919ff"/>
<rect x="572.1" y="478.1" width="11.9" height="3" fill="#c5c5ff"/>
<rect x="584" y="478.1" width="11.9" height="3" fill="#8585ff"/>
<rect x="595.8" y="478.1" width="11.9" height="3" fill="#ff8585"/>
<rect x="607.6" y="478.1" width="11.9" height="3" fill="#ffffff"/>
<rect x="619.4" y="478.1" width="11.9" height="3" fill="#ffcece"/>
<rect x="524.9" y="481" width="11.9" height="3" fill="#ff8585"/>
<rect x="536.7" y="481" width="11.9" height="3" fill="#ff5959"/>
<rect x="548.5" y="481" width="11.9" height="3" fill="#ffffff"/>
<rect x="560.3" y="481" width="11.9" height="3" fill="#5959ff"/>
<rect x="572.1" y="481" width="11.9" height="3" fill="#c5c5ff"/>
<rect x="584" y="481" width="11.9" height="3" fill="#8585ff"/>
<rect x="595.8" y="481" width="11.9" height="3" fill="#ff5959"/>
<rect x="607.6" y="481" width="11.9" height="3" fill="#ffffff"/>
<rect x="619.4" y="481" width="11.9" height="3" fill="#c5c5ff"/>
<rect x="524.9" y="484" width="11.9" height="3" fill="#ff8585"/>
<rect x="536.7" y="484" width="11.9" height="3" fill="#ff1919"/>
<rect x="548.5" y="484" width="11.9" height="3" fill="#ffffff"/>
<rect x="560.3" y="484" width="11.9" height="3" fill="#8585ff"/>
<rect x="572.1" y="484" width="11.9" height="3" fill="#8585ff"/>
<rect x="584" y="484" width="11.9" height="3" fill="#c5c5ff"/>
<rect x="595.8" y="484" width="11.9" height="3" fill="#ff8585"/>
<rect x="607.6" y="484" width="11.9" height="3" fill="#ffffff"/>
<rect x="619.4" y="484" width="11.9" height="3" fill="#c5c5ff"/>
<rect x="524.9" y="486.9" width="11.9" height="3" fill="#ff8585"/>
<rect x="536.7" y="486.9" width="11.9" height="3" fill="#ff1919"/>
<rect x="548.5" y="486.9" width="11.9" height="3" fill="#ffcece"/>
<rect x="560.3" y="486.9" width="11.9" height="3" fill="#8585ff"/>
<rect x="572.1" y="486.9" width="11.9" height="3" fill="#8585ff"/>
<rect x="584" y="486.9" width="11.9" height="3" fill="#5959ff"/>
<rect x="595.8" y="486.9" width="11.9" height="3" fill="#ffffff"/>
<rect x="607.6" y="486.9" width="11.9" height="3" fill="#ffcece"/>
<rect x="619.4" y="486.9" width="11.9" height="3" fill="#ffffff"/>
<rect x="524.9" y="489.9" width="11.9" height="3" fill="#ff1919"/>
<rect x="536.7" y="489.9" width="11.9" height="3" fill="#ff8585"/>
<rect x="548.5" y="489.9" width="11.9" height="3" fill="#ffffff"/>
<rect x="560.3" y="489.9" width="11.9" height="3" fill="#8585ff"/>
<rect x="572.1" y="489.9" width="11.9" height="3" fill="#c5c5ff"/>
<rect x="584" y="489.9" width="11.9" height="3" fill="#5959ff"/>
<rect x="595.8" y="489.9" width="11.9" height="3" fill="#ffcece"/>
<rect x="607.6" y="489.9" width="11.9" height="3" fill="#ffcece"/>
<rect x="619.4" y="489.9" width="11.9" height="3" fill="#c5c5ff"/>
<rect x="524.9" y="492.8" width="11.9" height="3" fill="#ff1919"/>
<rect x="536.7" y="492.8" width="11.9" height="3" fill="#ff8585"/>
<rect x="548.5" y="492.8" width="11.9" height="3" fill="#ffcece"/>
<rect x="560.3" y="492.8" width="11.9" height="3" fill="#8585ff"/>
<rect x="572.1" y="492.8" width="11.9" height="3" fill="#8585ff"/>
<rect x="584" y="492.8" width="11.9" height="3" fill="#5959ff"/>
<rect x="595.8" y="492.8" width="11.9" height="3" fill="#ffcece"/>
<rect x="607.6" y="492.8" width="11.9" height="3" fill="#ffffff"/>
<rect x="619.4" y="492.8" width="11.9" height="3" fill="#c5c5ff"/>
<rect x="524.9" y="495.8" width="11.9" height="3" fill="#ff1919"/>
<rect x="536.7" y="495.8" width="11.9" height="3" fill="#c5c5ff"/>
<rect x="548.5" y="495.8" width="11.9" height="3" fill="#ffcece"/>
<rect x="560.3" y="495.8" width="11.9" height="3" fill="#8585ff"/>
<rect x="572.1" y="495.8" width="11.9" height="3" fill="#c5c5ff"/>
<rect x="584" y="495.8" width="11.9" height="3" fill="#1919ff"/>
<rect x="595.8" y="495.8" width="11.9" height="3" fill="#ffcece"/>
<rect x="607.6" y="495.8" width="11.9" height="3" fill="#ffffff"/>
<rect x="619.4" y="495.8" width="11.9" height="3" fill="#ff8585"/>
<rect x="524.9" y="498.7" width="11.9" height="3" fill="#ff1919"/>
<rect x="536.7" y="498.7" width="11.9" height="3" fill="#ffffff"/>
<rect x="548.5" y="498.7" width="11.9" height="3" fill="#ff8585"/>
<rect x="560.3" y="498.7" width="11.9" height="3" fill="#8585ff"/>
<rect x="572.1" y="498.7" width="11.9" height="3" fill="#5959ff"/>
<rect x="584" y="498.7" width="11.9" height="3" fill="#8585ff"/>
<rect x="595.8" y="498.7" width="11.9" height="3" fill="#ffcece"/>
<rect x="607.6" y="498.7" width="11.9" height="3" fill="#ffcece"/>
<rect x="619.4" y="498.7" width="11.9" height="3" fill="#c5c5ff"/>
<rect x="524.9" y="501.7" width="11.9" height="3" fill="#ff1919"/>
<rect x="536.7" y="501.7" width="11.9" height="3" fill="#ff8585"/>
<rect x="548.5" y="501.7" width="11.9" height="3" fill="#ffffff"/>
<rect x="560.3" y="501.7" width="11.9" height="3" fill="#c5c5ff"/>
<rect x="572.1" y="501.7" width="11.9" height="3" fill="#8585ff"/>
<rect x="584" y="501.7" width="11.9" height="3" fill="#8585ff"/>
<rect x="595.8" y="501.7" width="11.9" height="3" fill="#ffcece"/>
<rect x="607.6" y="501.7" width="11.9" height="3" fill="#ffffff"/>
<rect x="619.4" y="501.7" width="11.9" height="3" fill="#ffcece"/>
<rect x="524.9" y="504.6" width="11.9" height="3" fill="#ff5959"/>
<rect x="536.7" y="504.6" width="11.9" height="3" fill="#ff5959"/>
<rect x="548.5" y="504.6" width="11.9" height="3" fill="#ff8585"/>
<rect x="560.3" y="504.6" width="11.9" height="3" fill="#5959ff"/>
<rect x="572.1" y="504.6" width="11.9" height="3" fill="#c5c5ff"/>
<rect x="584" y="504.6" width="11.9" height="3" fill="#8585ff"/>
<rect x="595.8" y="504.6" width="11.9" height="3" fill="#c5c5ff"/>
<rect x="607.6" y="504.6" width="11.9" height="3" fill="#c5c5ff"/>
<rect x="619.4" y="504.6" width="11.9" height="3" fill="#ff8585"/>
<rect x="524.9" y="507.6" width="11.9" height="3" fill="#ff5959"/>
<rect x="536.7" y="507.6" width="11.9" height="3" fill="#ff5959"/>
<rect x="548.5" y="507.6" width="11.9" height="3" fill="#ff8585"/>
<rect x="560.3" y="507.6" width="11.9" height="3" fill="#8585ff"/>
<rect x="572.1" y="507.6" width="11.9" height="3" fill="#8585ff"/>
<rect x="584" y="507.6" width="11.9" height="3" fill="#8585ff"/>
<rect x="595.8" y="507.6" width="11.9" height="3" fill="#c5c5ff"/>
<rect x="607.6" y="507.6" width="11.9" height="3" fill="#c5c5ff"/>
<rect x="619.4" y="507.6" width="11.9" height="3" fill="#ffcece"/>
<rect x="524.9" y="510.5" width="11.9" height="3" fill="#ff1919"/>
<rect x="536.7" y="510.5" width="11.9" height="3" fill="#ff8585"/>
<rect x="548.5" y="510.5" width="11.9" height="3" fill="#ffcece"/>
<rect x="560.3" y="510.5" width="11.9" height="3" fill="#5959ff"/>
<rect x="572.1" y="510.5" width="11.9" height="3" fill="#8585ff"/>
<rect x="584" y="510.5" width="11.9" height="3" fill="#8585ff"/>
<rect x="595.8" y="510.5" width="11.9" height="3" fill="#c5c5ff"/>
<rect x="607.6" y="510.5" width="11.9" height="3" fill="#c5c5ff"/>
<rect x="619.4" y="510.5" width="11.9" height="3" fill="#ff8585"/>
<rect x="524.9" y="513.5" width="11.9" height="3" fill="#ffcece"/>
<rect x="536.7" y="513.5" width="11.9" height="3" fill="#ffffff"/>
<rect x="548.5" y="513.5" width="11.9" height="3" fill="#ff8585"/>
<rect x="560.3" y="513.5" width="11.9" height="3" fill="#5959ff"/>
<rect x="572.1" y="513.5" width="11.9" height="3" fill="#5959ff"/>
<rect x="584" y="513.5" width="11.9" height="3" fill="#c5c5ff"/>
<rect x="595.8" y="513.5" width="11.9" height="3" fill="#ff1919"/>
<rect x="607.6" y="513.5" width="11.9" height="3" fill="#ff8585"/>
<rect x="619.4" y="513.5" width="11.9" height="3" fill="#c5c5ff"/>
<rect x="524.9" y="516.4" width="11.9" height="3" fill="#c5c5ff"/>
<rect x="536.7" y="516.4" width="11.9" height="3" fill="#c5c5ff"/>
<rect x="548.5" y="516.4" width="11.9" height="3" fill="#ffcece"/>
<rect x="560.3" y="516.4" width="11.9" height="3" fill="#8585ff"/>
<rect x="572.1" y="516.4" width="11.9" height="3" fill="#5959ff"/>
<rect x="584" y="516.4" width="11.9" height="3" fill="#c5c5ff"/>
<rect x="595.8" y="516.4" width="11.9" height="3" fill="#ff1919"/>
<rect x="607.6" y="516.4" width="11.9" height="3" fill="#ffffff"/>
<rect x="619.4" y="516.4" width="11.9" height="3" fill="#ff8585"/>
<rect x="524.9" y="519.4" width="11.9" height="3" fill="#ffcece"/>
<rect x="536.7" y="519.4" width="11.9" height="3" fill="#c5c5ff"/>
<rect x="548.5" y="519.4" width="11.9" height="3" fill="#ff5959"/>
<rect x="560.3" y="519.4" width="11.9" height="3" fill="#1919ff"/>
<rect x="572.1" y="519.4" width="11.9" height="3" fill="#8585ff"/>
<rect x="584" y="519.4" width="11.9" height="3" fill="#ffffff"/>
<rect x="595.8" y="519.4" width="11.9" height="3" fill="#ff5959"/>
<rect x="607.6" y="519.4" width="11.9" height="3" fill="#c5c5ff"/>
<rect x="619.4" y="519.4" width="11.9" height="3" fill="#ff8585"/>
<rect x="524.9" y="522.3" width="11.9" height="3" fill="#ffcece"/>
<rect x="536.7" y="522.3" width="11.9" height="3" fill="#c5c5ff"/>
<rect x="548.5" y="522.3" width="11.9" height="3" fill="#ff5959"/>
<rect x="560.3" y="522.3" width="11.9" height="3" fill="#1919ff"/>
<rect x="572.1" y="522.3" width="11.9" height="3" fill="#8585ff"/>
<rect x="584" y="522.3" width="11.9" height="3" fill="#c5c5ff"/>
<rect x="595.8" y="522.3" width="11.9" height="3" fill="#ff5959"/>
<rect x="607.6" y="522.3" width="11.9" height="3" fill="#ffffff"/>
<rect x="619.4" y="522.3" width="11.9" height="3" fill="#ffcece"/>
<rect x="524.9" y="525.3" width="11.9" height="3" fill="#c5c5ff"/>
<rect x="536.7" y="525.3" width="11.9" height="3" fill="#ffffff"/>
<rect x="548.5" y="525.3" width="11.9" height="3" fill="#ff1919"/>
<rect x="560.3" y="525.3" width="11.9" height="3" fill="#8585ff"/>
<rect x="572.1" y="525.3" width="11.9" height="3" fill="#8585ff"/>
<rect x="584" y="525.3" width="11.9" height="3" fill="#c5c5ff"/>
<rect x="595.8" y="525.3" width="11.9" height="3" fill="#c5c5ff"/>
<rect x="607.6" y="525.3" width="11.9" height="3" fill="#ff8585"/>
<rect x="619.4" y="525.3" width="11.9" height="3" fill="#ffcece"/>
<rect x="524.9" y="528.2" width="11.9" height="3" fill="#c5c5ff"/>
<rect x="536.7" y="528.2" width="11.9" height="3" fill="#ffcece"/>
<rect x="548.5" y="528.2" width="11.9" height="3" fill="#ff1919"/>
<rect x="560.3" y="528.2" width="11.9" height="3" fill="#c5c5ff"/>
<rect x="572.1" y="528.2" width="11.9" height="3" fill="#8585ff"/>
<rect x="584" y="528.2" width="11.9" height="3" fill="#8585ff"/>
<rect x="595.8" y="528.2" width="11.9" height="3" fill="#c5c5ff"/>
<rect x="607.6" y="528.2" width="11.9" height="3" fill="#ff8585"/>
<rect x="619.4" y="528.2" width="11.9" height="3" fill="#ffcece"/>
<rect x="524.9" y="531.2" width="11.9" height="3" fill="#c5c5ff"/>
<rect x="536.7" y="531.2" width="11.9" height="3" fill="#ffcece"/>
<rect x="548.5" y="531.2" width="11.9" height="3" fill="#ff1919"/>
<rect x="560.3" y="531.2" width="11.9" height="3" fill="#8585ff"/>
<rect x="572.1" y="531.2" width="11.9" height="3" fill="#1919ff"/>
<rect x="584" y="531.2" width="11.9" height="3" fill="#8585ff"/>
<rect x="595.8" y="531.2" width="11.9" height="3" fill="#ffcece"/>
<rect x="607.6" y="531.2" width="11.9" height="3" fill="#ff8585"/>
<rect x="619.4" y="531.2" width="11.9" height="3" fill="#ffffff"/>
<rect x="524.9" y="534.1" width="11.9" height="3" fill="#c5c5ff"/>
<rect x="536.7" y="534.1" width="11.9" height="3" fill="#ffcece"/>
<rect x="548.5" y="534.1" width="11.9" height="3" fill="#ff5959"/>
<rect x="560.3" y="534.1" width="11.9" height="3" fill="#8585ff"/>
<rect x="572.1" y="534.1" width="11.9" height="3" fill="#8585ff"/>
<rect x="584" y="534.1" width="11.9" height="3" fill="#1919ff"/>
<rect x="595.8" y="534.1" width="11.9" height="3" fill="#ffcece"/>
<rect x="607.6" y="534.1" width="11.9" height="3" fill="#ff8585"/>
<rect x="619.4" y="534.1" width="11.9" height="3" fill="#ffffff"/>
<rect x="524.9" y="537.1" width="11.9" height="3" fill="#ffffff"/>
<rect x="536.7" y="537.1" width="11.9" height="3" fill="#ff8585"/>
<rect x="548.5" y="537.1" width="11.9" height="3" fill="#ff8585"/>
<rect x="560.3" y="537.1" width="11.9" height="3" fill="#8585ff"/>
<rect x="572.1" y="537.1" width="11.9" height="3" fill="#8585ff"/>
<rect x="584" y="537.1" width="11.9" height="3" fill="#8585ff"/>
<rect x="595.8" y="537.1" width="11.9" height="3" fill="#8585ff"/>
<rect x="607.6" y="537.1" width="11.9" height="3" fill="#ffffff"/>
<rect x="619.4" y="537.1" width="11.9" height="3" fill="#ff1919"/>
<rect x="524.9" y="540" width="11.9" height="3" fill="#ff8585"/>
<rect x="536.7" y="540" width="11.9" height="3" fill="#ff8585"/>
<rect x="548.5" y="540" width="11.9" height="3" fill="#ff5959"/>
<rect x="560.3" y="540" width="11.9" height="3" fill="#8585ff"/>
<rect x="572.1" y="540" width="11.9" height="3" fill="#c5c5ff"/>
<rect x="584" y="540" width="11.9" height="3" fill="#8585ff"/>
<rect x="595.8" y="540" width="11.9" height="3" fill="#8585ff"/>
<rect x="607.6" y="540" width="11.9" height="3" fill="#ffffff"/>
<rect x="619.4" y="540" width="11.9" height="3" fill="#ff5959"/>
<rect x="524.9" y="543" width="11.9" height="3" fill="#ffcece"/>
<rect x="536.7" y="543" width="11.9" height="3" fill="#ff8585"/>
<rect x="548.5" y="543" width="11.9" height="3" fill="#ff5959"/>
<rect x="560.3" y="543" width="11.9" height="3" fill="#8585ff"/>
<rect x="572.1" y="543" width="11.9" height="3" fill="#c5c5ff"/>
<rect x="584" y="543" width="11.9" height="3" fill="#8585ff"/>
<rect x="595.8" y="543" width="11.9" height="3" fill="#c5c5ff"/>
<rect x="607.6" y="543" width="11.9" height="3" fill="#ffffff"/>
<rect x="619.4" y="543" width="11.9" height="3" fill="#ff8585"/>
<rect x="524.9" y="545.9" width="11.9" height="3" fill="#c5c5ff"/>
<rect x="536.7" y="545.9" width="11.9" height="3" fill="#ff8585"/>
<rect x="548.5" y="545.9" width="11.9" height="3" fill="#ff5959"/>
<rect x="560.3" y="545.9" width="11.9" height="3" fill="#8585ff"/>
<rect x="572.1" y="545.9" width="11.9" height="3" fill="#c5c5ff"/>
<rect x="584" y="545.9" width="11.9" height="3" fill="#8585ff"/>
<rect x="595.8" y="545.9" width="11.9" height="3" fill="#c5c5ff"/>
<rect x="607.6" y="545.9" width="11.9" height="3" fill="#ffffff"/>
<rect x="619.4" y="545.9" width="11.9" height="3" fill="#ff8585"/>
<rect x="524.9" y="548.9" width="11.9" height="3" fill="#c5c5ff"/>
<rect x="536.7" y="548.9" width="11.9" height="3" fill="#ffffff"/>
<rect x="548.5" y="548.9" width="11.9" height="3" fill="#ff8585"/>
<rect x="560.3" y="548.9" width="11.9" height="3" fill="#8585ff"/>
<rect x="572.1" y="548.9" width="11.9" height="3" fill="#8585ff"/>
<rect x="584" y="548.9" width="11.9" height="3" fill="#8585ff"/>
<rect x="595.8" y="548.9" width="11.9" height="3" fill="#ff8585"/>
<rect x="607.6" y="548.9" width="11.9" height="3" fill="#ffffff"/>
<rect x="619.4" y="548.9" width="11.9" height="3" fill="#ff1919"/>
<rect x="524.9" y="551.8" width="11.9" height="3" fill="#c5c5ff"/>
<rect x="536.7" y="551.8" width="11.9" height="3" fill="#ff8585"/>
<rect x="548.5" y="551.8" width="11.9" height="3" fill="#ff5959"/>
<rect x="560.3" y="551.8" width="11.9" height="3" fill="#1919ff"/>
<rect x="572.1" y="551.8" width="11.9" height="3" fill="#8585ff"/>
<rect x="584" y="551.8" width="11.9" height="3" fill="#8585ff"/>
<rect x="595.8" y="551.8" width="11.9" height="3" fill="#ffcece"/>
<rect x="607.6" y="551.8" width="11.9" height="3" fill="#ffffff"/>
<rect x="619.4" y="551.8" width="11.9" height="3" fill="#ff5959"/>
<rect x="524.9" y="554.8" width="11.9" height="3" fill="#ffcece"/>
<rect x="536.7" y="554.8" width="11.9" height="3" fill="#c5c5ff"/>
<rect x="548.5" y="554.8" width="11.9" height="3" fill="#ff1919"/>
<rect x="560.3" y="554.8" width="11.9" height="3" fill="#8585ff"/>
<rect x="572.1" y="554.8" width="11.9" height="3" fill="#c5c5ff"/>
<rect x="584" y="554.8" width="11.9" height="3" fill="#8585ff"/>
<rect x="595.8" y="554.8" width="11.9" height="3" fill="#ffffff"/>
<rect x="607.6" y="554.8" width="11.9" height="3" fill="#ffcece"/>
<rect x="619.4" y="554.8" width="11.9" height="3" fill="#ff8585"/>
<rect x="524.9" y="557.7" width="11.9" height="3" fill="#c5c5ff"/>
<rect x="536.7" y="557.7" width="11.9" height="3" fill="#ffffff"/>
<rect x="548.5" y="557.7" width="11.9" height="3" fill="#ff1919"/>
<rect x="560.3" y="557.7" width="11.9" height="3" fill="#c5c5ff"/>
<rect x="572.1" y="557.7" width="11.9" height="3" fill="#c5c5ff"/>
<rect x="584" y="557.7" width="11.9" height="3" fill="#5959ff"/>
<rect x="595.8" y="557.7" width="11.9" height="3" fill="#c5c5ff"/>
<rect x="607.6" y="557.7" width="11.9" height="3" fill="#ffffff"/>
<rect x="619.4" y="557.7" width="11.9" height="3" fill="#ff5959"/>
<rect x="524.9" y="560.7" width="11.9" height="3" fill="#c5c5ff"/>
<rect x="536.7" y="560.7" width="11.9" height="3" fill="#ffcece"/>
<rect x="548.5" y="560.7" width="11.9" height="3" fill="#ff1919"/>
<rect x="560.3" y="560.7" width="11.9" height="3" fill="#8585ff"/>
<rect x="572.1" y="560.7" width="11.9" height="3" fill="#8585ff"/>
<rect x="584" y="560.7" width="11.9" height="3" fill="#8585ff"/>
<rect x="595.8" y="560.7" width="11.9" height="3" fill="#ffcece"/>
<rect x="607.6" y="560.7" width="11.9" height="3" fill="#ffcece"/>
<rect x="619.4" y="560.7" width="11.9" height="3" fill="#ff8585"/>
<rect x="524.9" y="563.6" width="11.9" height="3" fill="#c5c5ff"/>
<rect x="536.7" y="563.6" width="11.9" height="3" fill="#ffcece"/>
<rect x="548.5" y="563.6" width="11.9" height="3" fill="#ff1919"/>
<rect x="560.3" y="563.6" width="11.9" height="3" fill="#8585ff"/>
<rect x="572.1" y="563.6" width="11.9" height="3" fill="#8585ff"/>
<rect x="584" y="563.6" width="11.9" height="3" fill="#5959ff"/>
<rect x="595.8" y="563.6" width="11.9" height="3" fill="#c5c5ff"/>
<rect x="607.6" y="563.6" width="11.9" height="3" fill="#ffcece"/>
<rect x="619.4" y="563.6" width="11.9" height="3" fill="#ff5959"/>
<path d="M524.9 327.6H631.2M524.9 330.6H631.2M524.9 333.5H631.2M524.9 336.5H631.2M524.9 339.4H631.2M524.9 342.4H631.2M524.9 345.3H631.2M524.9 348.3H631.2M524.9 351.2H631.2M524.9 354.2H631.2M524.9 357.1H631.2M524.9 360.1H631.2M524.9 363H631.2M524.9 366H631.2M524.9 368.9H631.2M524.9 371.9H631.2M524.9 374.8H631.2M524.9 377.8H631.2M524.9 380.7H631.2M524.9 383.7H631.2M524.9 386.6H631.2M524.9 389.6H631.2M524.9 392.5H631.2M524.9 395.5H631.2M524.9 398.4H631.2M524.9 401.4H631.2M524.9 404.3H631.2M524.9 407.3H631.2M524.9 410.2H631.2M524.9 413.2H631.2M524.9 416.1H631.2M524.9 419.1H631.2M524.9 422H631.2M524.9 425H631.2M524.9 427.9H631.2M524.9 430.9H631.2M524.9 433.8H631.2M524.9 436.8H631.2M524.9 439.7H631.2M524.9 442.7H631.2M524.9 445.6H631.2M524.9 448.6H631.2M524.9 451.5H631.2M524.9 454.5H631.2M524.9 457.4H631.2M524.9 460.4H631.2M524.9 463.3H631.2M524.9 466.3H631.2M524.9 469.2H631.2M524.9 472.2H631.2M524.9 475.1H631.2M524.9 478.1H631.2M524.9 481H631.2M524.9 484H631.2M524.9 486.9H631.2M524.9 489.9H631.2M524.9 492.8H631.2M524.9 495.8H631.2M524.9 498.7H631.2M524.9 501.7H631.2M524.9 504.6H631.2M524.9 507.6H631.2M524.9 510.5H631.2M524.9 513.5H631.2M524.9 516.4H631.2M524.9 519.4H631.2M524.9 522.3H631.2M524.9 525.3H631.2M524.9 528.2H631.2M524.9 531.2H631.2M524.9 534.1H631.2M524.9 537.1H631.2M524.9 540H631.2M524.9 543H631.2M524.9 545.9H631.2M524.9 548.9H631.2M524.9 551.8H631.2M524.9 554.8H631.2M524.9 557.7H631.2M524.9 560.7H631.2M524.9 563.6H631.2M524.9 566.6H631.2M524.9 327.6V566.6M536.7 327.6V566.6M548.5 327.6V566.6M560.3 327.6V566.6M572.1 327.6V566.6M584 327.6V566.6M595.8 327.6V566.6M607.6 327.6V566.6M619.4 327.6V566.6M631.2 327.6V566.6" stroke="#a0a0a0" stroke-width="0.35" fill="none" opacity="0.8"/>
<rect x="524.9" y="321.3" width="11.8" height="5" fill="#4ee35a" stroke="#a0a0a0" stroke-width="0.3"/>
<rect x="536.7" y="321.3" width="11.8" height="5" fill="#4ee35a" stroke="#a0a0a0" stroke-width="0.3"/>
<rect x="548.5" y="321.3" width="11.8" height="5" fill="#4ee35a" stroke="#a0a0a0" stroke-width="0.3"/>
<rect x="560.3" y="321.3" width="11.8" height="5" fill="#f08c8c" stroke="#a0a0a0" stroke-width="0.3"/>
<rect x="572.1" y="321.3" width="11.8" height="5" fill="#f08c8c" stroke="#a0a0a0" stroke-width="0.3"/>
<rect x="584" y="321.3" width="11.8" height="5" fill="#f08c8c" stroke="#a0a0a0" stroke-width="0.3"/>
<rect x="595.8" y="321.3" width="11.8" height="5" fill="#86b9f5" stroke="#a0a0a0" stroke-width="0.3"/>
<rect x="607.6" y="321.3" width="11.8" height="5" fill="#86b9f5" stroke="#a0a0a0" stroke-width="0.3"/>
<rect x="619.4" y="321.3" width="11.8" height="5" fill="#86b9f5" stroke="#a0a0a0" stroke-width="0.3"/>
<text x="632.4" y="325.6" style="font-family:'Liberation Sans',sans-serif;font-size:4.2px;font-weight:bold" fill="#222">Group</text>
<text x="528.3" y="569.6" style="font-family:'Liberation Sans',sans-serif;font-size:7px;font-weight:bold" fill="#111" transform="rotate(90 528.3 569.6)">ND1</text>
<text x="540.1" y="569.6" style="font-family:'Liberation Sans',sans-serif;font-size:7px;font-weight:bold" fill="#111" transform="rotate(90 540.1 569.6)">ND2</text>
<text x="551.9" y="569.6" style="font-family:'Liberation Sans',sans-serif;font-size:7px;font-weight:bold" fill="#111" transform="rotate(90 551.9 569.6)">ND3</text>
<text x="563.7" y="569.6" style="font-family:'Liberation Sans',sans-serif;font-size:7px;font-weight:bold" fill="#111" transform="rotate(90 563.7 569.6)">HFD1</text>
<text x="575.5" y="569.6" style="font-family:'Liberation Sans',sans-serif;font-size:7px;font-weight:bold" fill="#111" transform="rotate(90 575.5 569.6)">HFD2</text>
<text x="587.4" y="569.6" style="font-family:'Liberation Sans',sans-serif;font-size:7px;font-weight:bold" fill="#111" transform="rotate(90 587.4 569.6)">HFD3</text>
<text x="599.2" y="569.6" style="font-family:'Liberation Sans',sans-serif;font-size:7px;font-weight:bold" fill="#111" transform="rotate(90 599.2 569.6)">HFD+D1</text>
<text x="611" y="569.6" style="font-family:'Liberation Sans',sans-serif;font-size:7px;font-weight:bold" fill="#111" transform="rotate(90 611 569.6)">HFD+D2</text>
<text x="622.8" y="569.6" style="font-family:'Liberation Sans',sans-serif;font-size:7px;font-weight:bold" fill="#111" transform="rotate(90 622.8 569.6)">HFD+D3</text>
<path d="M530.8 321L530.8 312.6M542.6 321L542.6 312.6M530.8 312.6L542.6 312.6M613.5 321L613.5 311.7M625.3 321L625.3 311.7M613.5 311.7L625.3 311.7M619.4 311.7L619.4 309.5M601.7 321L601.7 309.5M601.7 309.5L619.4 309.5M536.7 312.6L536.7 308.3M610.5 309.5L610.5 308.3M536.7 308.3L610.5 308.3M554.4 321L554.4 305.6M573.6 308.3L573.6 305.6M554.4 305.6L573.6 305.6M566.2 321L566.2 312.8M589.9 321L589.9 312.8M566.2 312.8L589.9 312.8M578 321L578 295.3M564 305.6L564 295.3M564 295.3L578 295.3" stroke="#555" stroke-width="0.6" fill="none"/>
<path d="M524.3 329.1H521.5V332H524.3M521.5 330.6H520.5V335H524.3M524.3 337.9H521.5V340.9H524.3M520.5 332.8H520V339.4H521.5M524.3 343.8H521.5V346.8H524.3M524.3 349.7H521.5V352.7H524.3M521.5 351.2H521V355.6H524.3M521.5 345.3H519.5V353.4H521M520 336.1H518.1V349.4H519.5M524.3 364.5H521.8V367.4H524.3M524.3 361.5H520.4V366H521.8M524.3 358.6H519.7V363.7H520.4M524.3 373.3H521.5V376.3H524.3M524.3 370.4H521V374.8H521.5M519.7 361.2H518.4V372.6H521M524.3 382.2H521.5V385.1H524.3M524.3 379.2H520.9V383.7H521.5M524.3 388.1H521.5V391H524.3M524.3 394H521.5V396.9H524.3M521.5 389.6H520.2V395.5H521.5M520.9 381.4H518V392.5H520.2M518.4 366.9H516.8V387H518M524.3 399.9H521.6V402.8H524.3M521.6 401.4H520.3V405.8H524.3M524.3 411.7H521.8V414.6H524.3M524.3 408.7H521V413.2H521.8M524.3 417.6H521.9V420.5H524.3M521 411H519.9V419.1H521.9M520.3 403.6H518.6V415H519.9M524.3 426.4H521.6V429.4H524.3M524.3 423.5H520.8V427.9H521.6M524.3 435.3H521.5V438.2H524.3M524.3 432.3H520.7V436.8H521.5M520.8 425.7H519.2V434.6H520.7M518.6 409.3H516.9V430.1H519.2M516.8 376.9H514.7V419.7H516.9M518.1 342.7H512.1V398.3H514.7M524.3 444.1H521.6V447.1H524.3M524.3 441.2H520.4V445.6H521.6M520.4 443.4H519.9V450.1H524.3M524.3 453H521.7V456H524.3M524.3 458.9H521.9V461.9H524.3M521.7 454.5H520.4V460.4H521.9M524.3 464.8H521.8V467.8H524.3M520.4 457.4H518.4V466.3H521.8M519.9 446.7H517.9V461.9H518.4M524.3 473.7H521.8V476.6H524.3M524.3 470.7H520.7V475.1H521.8M520.7 472.9H519.7V479.6H524.3M524.3 482.5H521.9V485.5H524.3M519.7 476.2H518.7V484H521.9M524.3 488.4H521.5V491.4H524.3M524.3 494.3H521.9V497.3H524.3M521.5 489.9H519.6V495.8H521.9M518.7 480.1H518.2V492.8H519.6M517.9 454.3H516.4V486.5H518.2M524.3 500.2H521.5V503.2H524.3M524.3 506.1H521.7V509.1H524.3M521.5 501.7H520.2V507.6H521.7M524.3 512H521.8V515H524.3M520.2 504.6H519.4V513.5H521.8M524.3 517.9H521.9V520.9H524.3M524.3 523.8H521.5V526.8H524.3M521.5 525.3H521V529.7H524.3M521.9 519.4H519.9V527.5H521M519.4 509.1H516.7V523.4H519.9M524.3 535.6H521.6V538.6H524.3M524.3 532.7H520.4V537.1H521.6M524.3 544.5H521.7V547.4H524.3M524.3 541.5H521V545.9H521.7M520.4 534.9H518.5V543.7H521M524.3 550.4H521.7V553.3H524.3M524.3 556.3H521.9V559.2H524.3M524.3 562.2H521.6V565.1H524.3M521.9 557.7H519.5V563.6H521.6M521.7 551.8H518.8V560.7H519.5M518.5 539.3H516.8V556.3H518.8M516.7 516.3H516.2V547.8H516.8M516.4 470.4H511.5V532H516.2M512.1 370.5H504.4V501.2H511.5" stroke="#555" stroke-width="0.5" fill="none"/>
<text x="632.6" y="330.1" style="font-family:'Liberation Sans',sans-serif;font-size:2.9px" fill="#4a4a4a">AC1234567Rik</text>
<text x="632.6" y="333" style="font-family:'Liberation Sans',sans-serif;font-size:2.9px" fill="#4a4a4a">Hsd3b5</text>
<text x="632.6" y="336" style="font-family:'Liberation Sans',sans-serif;font-size:2.9px" fill="#4a4a4a">Agpt4</text>
<text x="632.6" y="338.9" style="font-family:'Liberation Sans',sans-serif;font-size:2.9px" fill="#4a4a4a">Cyp17a1</text>
<text x="632.6" y="341.9" style="font-family:'Liberation Sans',sans-serif;font-size:2.9px" fill="#4a4a4a">Sult2a8</text>
<text x="632.6" y="344.8" style="font-family:'Liberation Sans',sans-serif;font-size:2.9px" fill="#4a4a4a">Rad51b</text>
<text x="632.6" y="347.8" style="font-family:'Liberation Sans',sans-serif;font-size:2.9px" fill="#4a4a4a">Ces1g</text>
<text x="632.6" y="350.7" style="font-family:'Liberation Sans',sans-serif;font-size:2.9px" fill="#4a4a4a">Cyp2c54</text>
<text x="632.6" y="353.7" style="font-family:'Liberation Sans',sans-serif;font-size:2.9px" fill="#4a4a4a">Gm34654</text>
<text x="632.6" y="356.6" style="font-family:'Liberation Sans',sans-serif;font-size:2.9px" fill="#4a4a4a">Avpr1a</text>
<text x="632.6" y="359.6" style="font-family:'Liberation Sans',sans-serif;font-size:2.9px" fill="#4a4a4a">Lpin1</text>
<text x="632.6" y="362.5" style="font-family:'Liberation Sans',sans-serif;font-size:2.9px" fill="#4a4a4a">Cdkal1</text>
<text x="632.6" y="365.5" style="font-family:'Liberation Sans',sans-serif;font-size:2.9px" fill="#4a4a4a">Cml2</text>
<text x="632.6" y="368.4" style="font-family:'Liberation Sans',sans-serif;font-size:2.9px" fill="#4a4a4a">Tpm3</text>
<text x="632.6" y="371.4" style="font-family:'Liberation Sans',sans-serif;font-size:2.9px" fill="#4a4a4a">Slc22a7</text>
<text x="632.6" y="374.3" style="font-family:'Liberation Sans',sans-serif;font-size:2.9px" fill="#4a4a4a">Gm26917</text>
<text x="632.6" y="377.3" style="font-family:'Liberation Sans',sans-serif;font-size:2.9px" fill="#4a4a4a">Elovl3</text>
<text x="632.6" y="380.2" style="font-family:'Liberation Sans',sans-serif;font-size:2.9px" fill="#4a4a4a">Mup7</text>
<text x="632.6" y="383.2" style="font-family:'Liberation Sans',sans-serif;font-size:2.9px" fill="#4a4a4a">Nnmt</text>
<text x="632.6" y="386.1" style="font-family:'Liberation Sans',sans-serif;font-size:2.9px" fill="#4a4a4a">Fmo3</text>
<text x="632.6" y="389.1" style="font-family:'Liberation Sans',sans-serif;font-size:2.9px" fill="#4a4a4a">Ugt2b1</text>
<text x="632.6" y="392" style="font-family:'Liberation Sans',sans-serif;font-size:2.9px" fill="#4a4a4a">Cyp4a12</text>
<text x="632.6" y="395" style="font-family:'Liberation Sans',sans-serif;font-size:2.9px" fill="#4a4a4a">Apoa4</text>
<text x="632.6" y="397.9" style="font-family:'Liberation Sans',sans-serif;font-size:2.9px" fill="#4a4a4a">Lcn13</text>
<text x="632.6" y="400.9" style="font-family:'Liberation Sans',sans-serif;font-size:2.9px" fill="#4a4a4a">Saa1</text>
<text x="632.6" y="403.8" style="font-family:'Liberation Sans',sans-serif;font-size:2.9px" fill="#4a4a4a">Igfbp2</text>
<text x="632.6" y="406.8" style="font-family:'Liberation Sans',sans-serif;font-size:2.9px" fill="#4a4a4a">Thrsp</text>
<text x="632.6" y="409.7" style="font-family:'Liberation Sans',sans-serif;font-size:2.9px" fill="#4a4a4a">Serpina7</text>
<text x="632.6" y="412.7" style="font-family:'Liberation Sans',sans-serif;font-size:2.9px" fill="#4a4a4a">Acot1</text>
<text x="632.6" y="415.6" style="font-family:'Liberation Sans',sans-serif;font-size:2.9px" fill="#4a4a4a">Mogat1</text>
<text x="632.6" y="418.6" style="font-family:'Liberation Sans',sans-serif;font-size:2.9px" fill="#4a4a4a">AC1234567Rik</text>
<text x="632.6" y="421.5" style="font-family:'Liberation Sans',sans-serif;font-size:2.9px" fill="#4a4a4a">Hsd3b5</text>
<text x="632.6" y="424.5" style="font-family:'Liberation Sans',sans-serif;font-size:2.9px" fill="#4a4a4a">Agpt4</text>
<text x="632.6" y="427.4" style="font-family:'Liberation Sans',sans-serif;font-size:2.9px" fill="#4a4a4a">Cyp17a1</text>
<text x="632.6" y="430.4" style="font-family:'Liberation Sans',sans-serif;font-size:2.9px" fill="#4a4a4a">Sult2a8</text>
<text x="632.6" y="433.3" style="font-family:'Liberation Sans',sans-serif;font-size:2.9px" fill="#4a4a4a">Rad51b</text>
<text x="632.6" y="436.3" style="font-family:'Liberation Sans',sans-serif;font-size:2.9px" fill="#4a4a4a">Ces1g</text>
<text x="632.6" y="439.2" style="font-family:'Liberation Sans',sans-serif;font-size:2.9px" fill="#4a4a4a">Cyp2c54</text>
<text x="632.6" y="442.2" style="font-family:'Liberation Sans',sans-serif;font-size:2.9px" fill="#4a4a4a">Gm34654</text>
<text x="632.6" y="445.1" style="font-family:'Liberation Sans',sans-serif;font-size:2.9px" fill="#4a4a4a">Avpr1a</text>
<text x="632.6" y="448.1" style="font-family:'Liberation Sans',sans-serif;font-size:2.9px" fill="#4a4a4a">Lpin1</text>
<text x="632.6" y="451.1" style="font-family:'Liberation Sans',sans-serif;font-size:2.9px" fill="#4a4a4a">Cdkal1</text>
<text x="632.6" y="454" style="font-family:'Liberation Sans',sans-serif;font-size:2.9px" fill="#4a4a4a">Cml2</text>
<text x="632.6" y="457" style="font-family:'Liberation Sans',sans-serif;font-size:2.9px" fill="#4a4a4a">Tpm3</text>
<text x="632.6" y="459.9" style="font-family:'Liberation Sans',sans-serif;font-size:2.9px" fill="#4a4a4a">Slc22a7</text>
<text x="632.6" y="462.9" style="font-family:'Liberation Sans',sans-serif;font-size:2.9px" fill="#4a4a4a">Gm26917</text>
<text x="632.6" y="465.8" style="font-family:'Liberation Sans',sans-serif;font-size:2.9px" fill="#4a4a4a">Elovl3</text>
<text x="632.6" y="468.8" style="font-family:'Liberation Sans',sans-serif;font-size:2.9px" fill="#4a4a4a">Mup7</text>
<text x="632.6" y="471.7" style="font-family:'Liberation Sans',sans-serif;font-size:2.9px" fill="#4a4a4a">Nnmt</text>
<text x="632.6" y="474.7" style="font-family:'Liberation Sans',sans-serif;font-size:2.9px" fill="#4a4a4a">Fmo3</text>
<text x="632.6" y="477.6" style="font-family:'Liberation Sans',sans-serif;font-size:2.9px" fill="#4a4a4a">Ugt2b1</text>
<text x="632.6" y="480.6" style="font-family:'Liberation Sans',sans-serif;font-size:2.9px" fill="#4a4a4a">Cyp4a12</text>
<text x="632.6" y="483.5" style="font-family:'Liberation Sans',sans-serif;font-size:2.9px" fill="#4a4a4a">Apoa4</text>
<text x="632.6" y="486.5" style="font-family:'Liberation Sans',sans-serif;font-size:2.9px" fill="#4a4a4a">Lcn13</text>
<text x="632.6" y="489.4" style="font-family:'Liberation Sans',sans-serif;font-size:2.9px" fill="#4a4a4a">Saa1</text>
<text x="632.6" y="492.4" style="font-family:'Liberation Sans',sans-serif;font-size:2.9px" fill="#4a4a4a">Igfbp2</text>
<text x="632.6" y="495.3" style="font-family:'Liberation Sans',sans-serif;font-size:2.9px" fill="#4a4a4a">Thrsp</text>
<text x="632.6" y="498.3" style="font-family:'Liberation Sans',sans-serif;font-size:2.9px" fill="#4a4a4a">Serpina7</text>
<text x="632.6" y="501.2" style="font-family:'Liberation Sans',sans-serif;font-size:2.9px" fill="#4a4a4a">Acot1</text>
<text x="632.6" y="504.2" style="font-family:'Liberation Sans',sans-serif;font-size:2.9px" fill="#4a4a4a">Mogat1</text>
<text x="632.6" y="507.1" style="font-family:'Liberation Sans',sans-serif;font-size:2.9px" fill="#4a4a4a">AC1234567Rik</text>
<text x="632.6" y="510.1" style="font-family:'Liberation Sans',sans-serif;font-size:2.9px" fill="#4a4a4a">Hsd3b5</text>
<text x="632.6" y="513" style="font-family:'Liberation Sans',sans-serif;font-size:2.9px" fill="#4a4a4a">Agpt4</text>
<text x="632.6" y="516" style="font-family:'Liberation Sans',sans-serif;font-size:2.9px" fill="#4a4a4a">Cyp17a1</text>
<text x="632.6" y="518.9" style="font-family:'Liberation Sans',sans-serif;font-size:2.9px" fill="#4a4a4a">Sult2a8</text>
<text x="632.6" y="521.9" style="font-family:'Liberation Sans',sans-serif;font-size:2.9px" fill="#4a4a4a">Rad51b</text>
<text x="632.6" y="524.8" style="font-family:'Liberation Sans',sans-serif;font-size:2.9px" fill="#4a4a4a">Ces1g</text>
<text x="632.6" y="527.8" style="font-family:'Liberation Sans',sans-serif;font-size:2.9px" fill="#4a4a4a">Cyp2c54</text>
<text x="632.6" y="530.7" style="font-family:'Liberation Sans',sans-serif;font-size:2.9px" fill="#4a4a4a">Gm34654</text>
<text x="632.6" y="533.7" style="font-family:'Liberation Sans',sans-serif;font-size:2.9px" fill="#4a4a4a">Avpr1a</text>
<text x="632.6" y="536.6" style="font-family:'Liberation Sans',sans-serif;font-size:2.9px" fill="#4a4a4a">Lpin1</text>
<text x="632.6" y="539.6" style="font-family:'Liberation Sans',sans-serif;font-size:2.9px" fill="#4a4a4a">Cdkal1</text>
<text x="632.6" y="542.5" style="font-family:'Liberation Sans',sans-serif;font-size:2.9px" fill="#4a4a4a">Cml2</text>
<text x="632.6" y="545.5" style="font-family:'Liberation Sans',sans-serif;font-size:2.9px" fill="#4a4a4a">Tpm3</text>
<text x="632.6" y="548.4" style="font-family:'Liberation Sans',sans-serif;font-size:2.9px" fill="#4a4a4a">Slc22a7</text>
<text x="632.6" y="551.4" style="font-family:'Liberation Sans',sans-serif;font-size:2.9px" fill="#4a4a4a">Gm26917</text>
<text x="632.6" y="554.3" style="font-family:'Liberation Sans',sans-serif;font-size:2.9px" fill="#4a4a4a">Elovl3</text>
<text x="632.6" y="557.3" style="font-family:'Liberation Sans',sans-serif;font-size:2.9px" fill="#4a4a4a">Mup7</text>
<text x="632.6" y="560.2" style="font-family:'Liberation Sans',sans-serif;font-size:2.9px" fill="#4a4a4a">Nnmt</text>
<text x="632.6" y="563.2" style="font-family:'Liberation Sans',sans-serif;font-size:2.9px" fill="#4a4a4a">Fmo3</text>
<text x="632.6" y="566.1" style="font-family:'Liberation Sans',sans-serif;font-size:2.9px" fill="#4a4a4a">Ugt2b1</text>
<defs><linearGradient id="hg" x1="0" y1="0" x2="0" y2="1"><stop offset="0" stop-color="#ff0000"/><stop offset="0.5" stop-color="#ffffff"/><stop offset="1" stop-color="#0000ff"/></linearGradient></defs>
<rect x="652.5" y="320.8" width="4.1" height="73.6" fill="url(#hg)"/>
<text x="657.8" y="322.8" style="font-family:'Liberation Sans',sans-serif;font-size:4.2px" fill="#222">2</text>
<text x="657.8" y="341.2" style="font-family:'Liberation Sans',sans-serif;font-size:4.2px" fill="#222">1</text>
<text x="657.8" y="359.6" style="font-family:'Liberation Sans',sans-serif;font-size:4.2px" fill="#222">0</text>
<text x="657.8" y="377.9" style="font-family:'Liberation Sans',sans-serif;font-size:4.2px" fill="#222">-1</text>
<text x="657.8" y="396.4" style="font-family:'Liberation Sans',sans-serif;font-size:4.2px" fill="#222">-2</text>
<text x="663.8" y="324.8" style="font-family:'Liberation Sans',sans-serif;font-size:4.4px;font-weight:bold" fill="#222">Group</text>
<rect x="664.3" y="326.5" width="5.5" height="7.1" fill="#4ee35a"/>
<text x="670.9" y="331.5" style="font-family:'Liberation Sans',sans-serif;font-size:4.2px" fill="#222">ND</text>
<rect x="664.3" y="333.8" width="5.5" height="7.1" fill="#f08c8c"/>
<text x="670.9" y="338.8" style="font-family:'Liberation Sans',sans-serif;font-size:4.2px" fill="#222">HFD</text>
<rect x="664.3" y="341.1" width="5.5" height="7.1" fill="#86b9f5"/>
<text x="670.9" y="346.1" style="font-family:'Liberation Sans',sans-serif;font-size:4.2px" fill="#222">HFD+D</text></svg></body></html>
